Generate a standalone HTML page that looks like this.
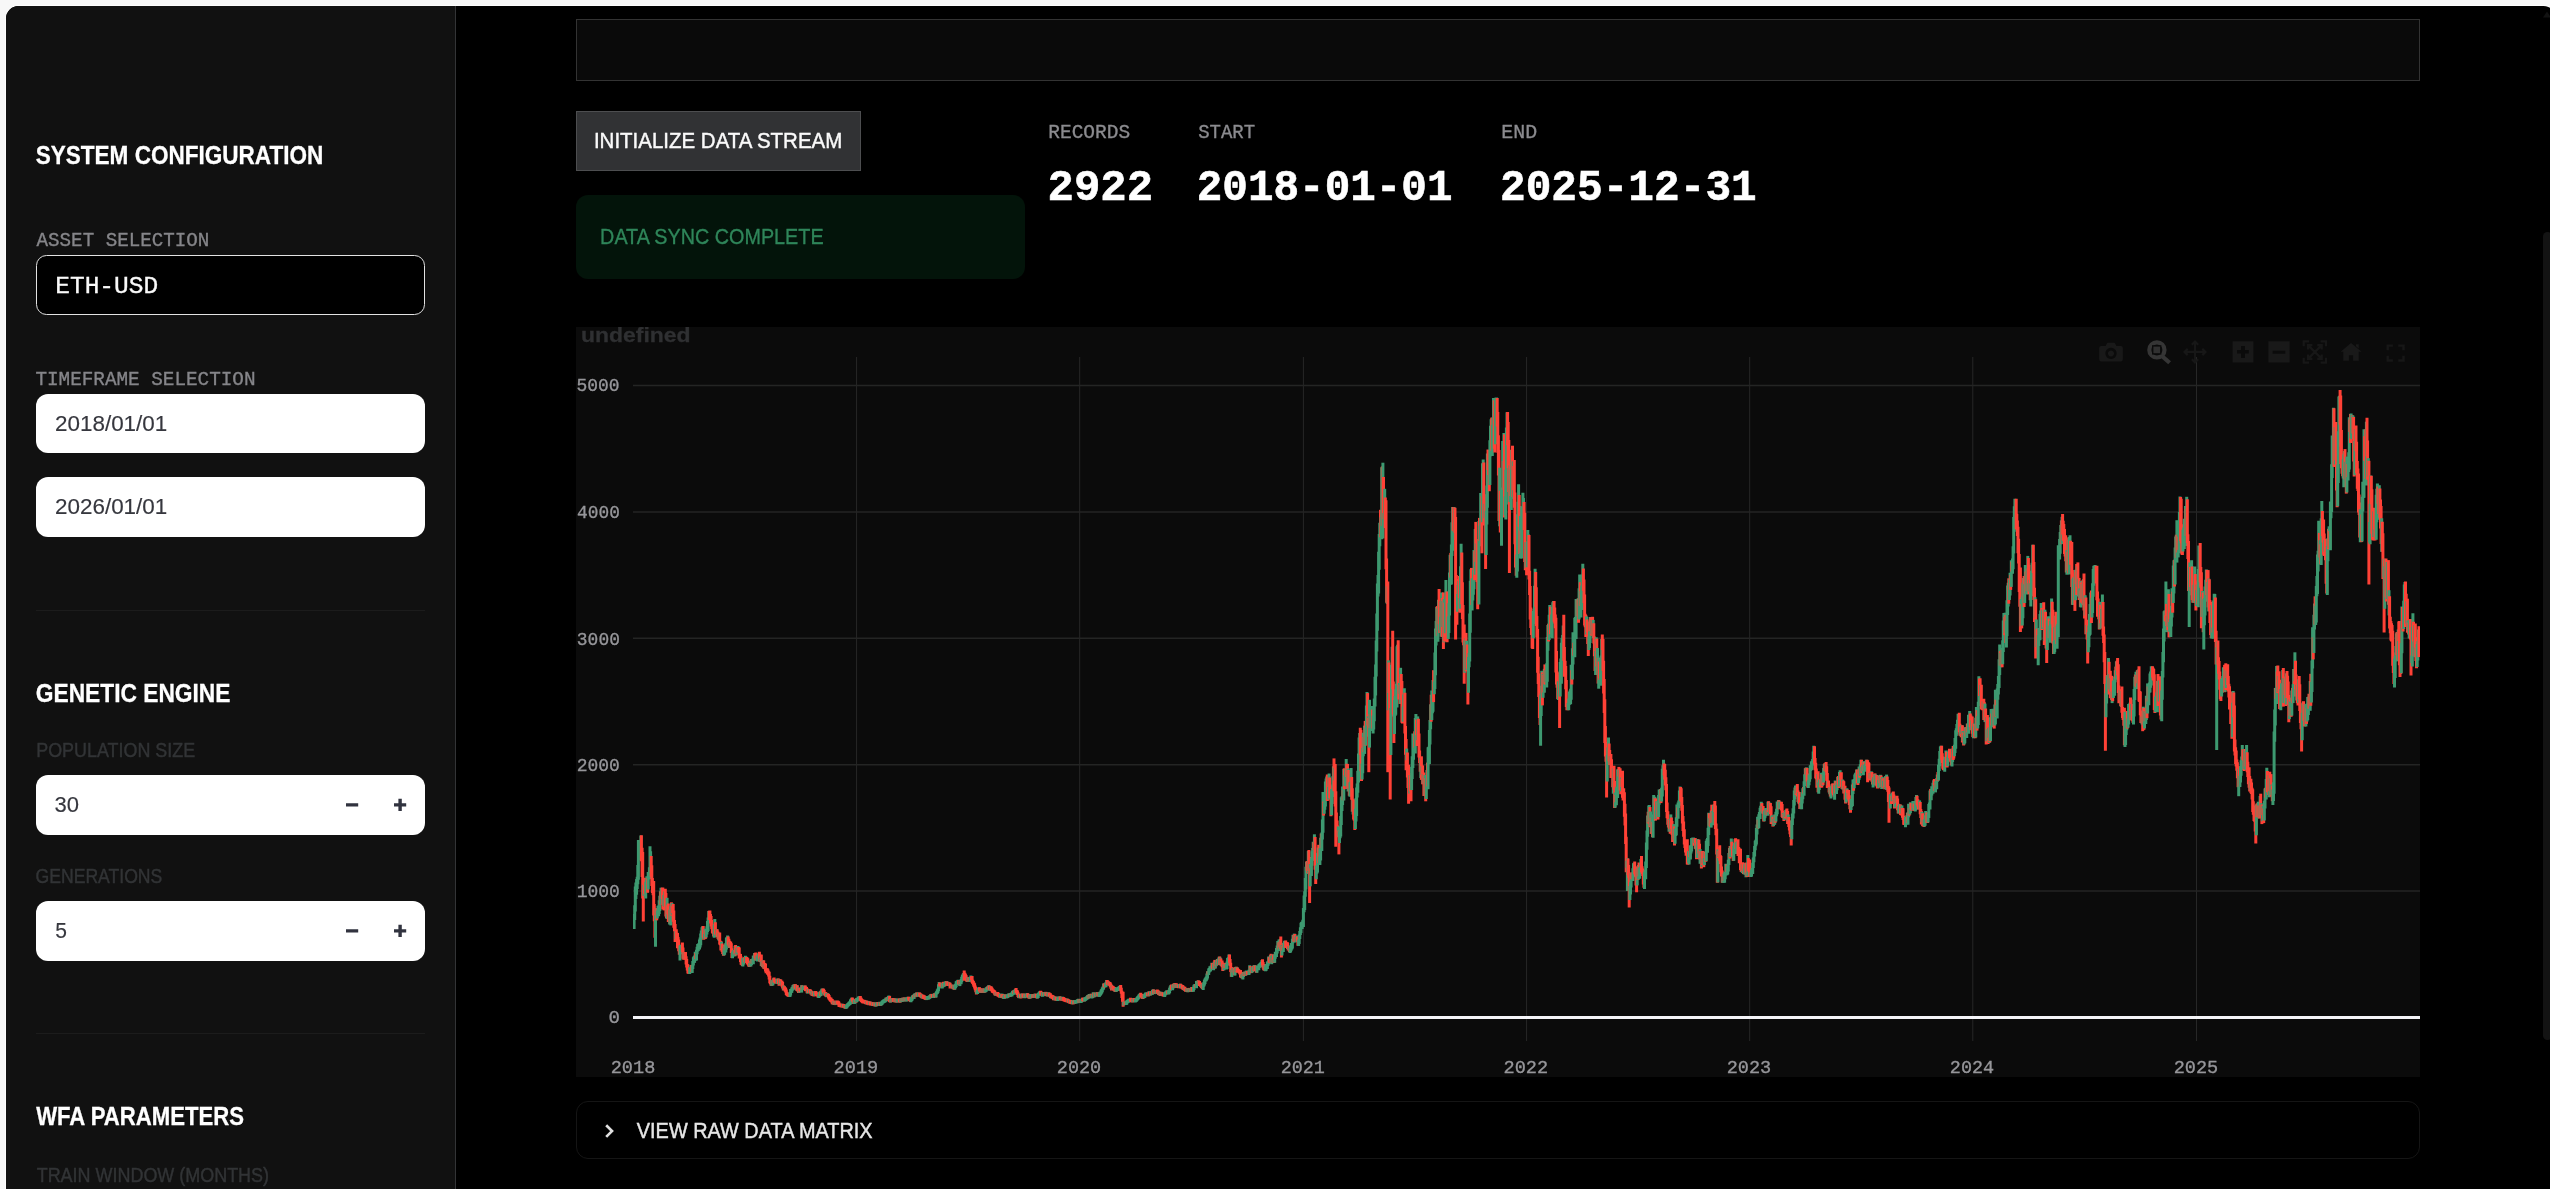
<!DOCTYPE html>
<html><head><meta charset="utf-8"><title>ETH-USD WFA</title>
<style>
*{box-sizing:border-box;margin:0;padding:0}
html,body{width:2550px;height:1189px;overflow:hidden;background:#f7f7f7;font-family:"Liberation Sans",sans-serif}
.win{position:absolute;left:6px;top:6px;width:2550px;height:1200px;background:#000;border-radius:12.5px 12.5px 0 0;overflow:hidden;box-shadow:0 0 0 1px #fdfdfd}
.side{position:absolute;left:0;top:0;width:449px;height:1200px;background:#111111}
.sideb{position:absolute;left:449px;top:0;width:1px;height:1200px;background:#333436}
.abs{position:absolute}
.inp{position:absolute;left:30px;width:389px;height:60px;background:#fff;border-radius:12px}
.hr{position:absolute;left:30px;width:389px;height:1px;background:#1c1c1c}
.g{stroke:#3d9970}.r{stroke:#ff4136}
</style></head><body>
<div class="win">
  <div class="side">
    <div class="abs" style="left:30px;top:249px;width:389px;height:60px;background:#000;border:1px solid #e2e2e2;border-radius:10.5px"></div>
    <div class="inp" style="top:388px;height:59px"></div>
    <div class="inp" style="top:471px"></div>
    <div class="hr" style="top:604px"></div>
    <div class="inp" style="top:769px"></div>
    <div class="inp" style="top:895px"></div>
    <div class="hr" style="top:1027px"></div>
  </div>
  <div class="sideb"></div>
  <div class="abs" style="left:570px;top:13px;width:1844px;height:62px;background:#0a0a0a;border:1px solid #333"></div>
  <div class="abs" style="left:570px;top:105px;width:285px;height:60px;background:#313234;border:1px solid #4d4e50"></div>
  <div class="abs" style="left:570px;top:189px;width:449px;height:84px;background:#03140a;border-radius:12px"></div>
  <div class="abs" style="left:570px;top:1095px;width:1844px;height:58px;border:1px solid #151515;border-radius:12px"></div>
  <div class="abs" style="left:2537px;top:226px;width:9px;height:808px;background:#131313;border-radius:5px"></div>
  <svg class="abs" style="left:2537px;top:5px" width="8" height="8"><path d="M0 6.5L4 0.500L8 6.500z" fill="#121212"/></svg>
</div>
<svg class="abs" style="left:576px;top:327px;will-change:transform" width="1844" height="750" viewBox="576 327 1844 750">
  <rect x="576" y="327" width="1844" height="750" fill="#0b0b0b"/>
  <path d="M856.6 357V1041M1079.7 357V1041M1303.4 357V1041M1526.6 357V1041M1749.7 357V1041M1972.8 357V1041M2196.5 357V1041" stroke="#272727" stroke-width="1" fill="none"/>
  <path d="M633 385.5H2420M633 511.9H2420M633 638.2H2420M633 764.7H2420M633 891.1H2420" stroke="#242524" stroke-width="1.5" fill="none"/>
  <path d="M633 1017.5H2420" stroke="#f4f4f8" stroke-width="3"/>
  <clipPath id="pc"><rect x="633.1" y="357" width="1786.9" height="684"/></clipPath>
  <g fill="none" stroke-width="3" clip-path="url(#pc)"><path class="g" d="M633.5 918.8V926.1M634.1 914.0V929.0M634.7 905.3V920.0M635.3 886.5V911.4M635.9 882.5V898.9M636.6 879.1V894.8M637.2 876.7V888.9M637.8 865.0V884.3M638.4 839.9V879.7M639.0 846.8V858.9M639.6 841.0V859.7M640.2 841.4V854.0M640.8 835.5V858.2"/><path class="r" d="M641.4 835.3V861.3M642.1 847.8V876.9M642.7 852.0V898.6M643.3 878.5V921.4"/><path class="g" d="M643.9 884.8V895.8"/><path class="r" d="M644.5 877.8V893.7M645.1 887.1V895.8"/><path class="g" d="M645.7 881.7V898.6M646.3 879.6V890.9M646.9 876.2V889.0"/><path class="r" d="M647.6 878.2V892.8"/><path class="g" d="M648.2 872.1V889.4M648.8 872.9V879.4M649.4 867.3V878.9M650.0 846.2V878.9M650.6 851.2V864.8"/><path class="r" d="M651.2 855.9V876.7M651.8 865.2V886.0M652.4 878.0V893.0M653.1 883.0V895.3M653.7 881.0V915.6M654.3 904.0V921.2M654.9 910.1V937.8"/><path class="g" d="M655.5 915.2V946.7M656.1 908.4V920.3"/><path class="r" d="M656.7 908.1V920.3"/><path class="g" d="M657.3 910.6V918.6M658.0 905.8V916.0M658.6 905.6V916.2M659.2 900.3V913.9M659.8 895.7V910.9"/><path class="r" d="M660.4 891.2V904.6"/><path class="g" d="M661.0 887.7V904.6M661.6 889.7V899.0"/><path class="r" d="M662.2 887.4V898.9M662.8 887.5V909.5"/><path class="g" d="M663.5 895.0V906.0"/><path class="r" d="M664.1 894.1V910.4"/><path class="g" d="M664.7 891.4V906.9"/><path class="r" d="M665.3 888.7V907.4M665.9 893.0V916.4M666.5 906.6V918.3"/><path class="g" d="M667.1 897.8V919.0"/><path class="r" d="M667.7 905.3V914.5M668.3 903.5V921.9M669.0 909.6V918.6"/><path class="g" d="M669.6 909.7V924.5"/><path class="r" d="M670.2 909.3V923.4"/><path class="g" d="M670.8 905.9V925.4"/><path class="r" d="M671.4 902.3V915.6"/><path class="g" d="M672.0 903.1V914.9"/><path class="r" d="M672.6 905.7V913.1M673.2 904.0V921.8M673.8 910.6V927.8M674.5 920.1V931.2M675.1 924.1V942.1"/><path class="g" d="M675.7 931.1V939.2"/><path class="r" d="M676.3 929.3V939.3M676.9 932.7V940.0M677.5 932.9V948.2M678.1 937.1V948.2M678.7 939.5V951.2M679.3 945.1V954.8"/><path class="g" d="M680.0 945.5V960.6M680.6 945.0V954.3M681.2 945.5V953.0M681.8 944.6V949.1"/><path class="r" d="M682.4 942.5V951.9M683.0 947.6V958.8M683.6 952.5V959.8"/><path class="g" d="M684.2 952.6V959.0"/><path class="r" d="M684.8 952.4V959.5M685.5 952.1V959.7M686.1 956.3V964.5M686.7 959.1V967.5M687.3 964.0V970.5M687.9 964.6V973.5M688.5 969.5V973.8M689.1 969.8V974.1"/><path class="g" d="M689.7 967.3V974.1M690.3 968.1V972.3M691.0 965.1V972.0"/><path class="r" d="M691.6 964.9V972.2"/><path class="g" d="M692.2 965.3V973.0M692.8 960.9V969.0M693.4 957.3V965.5M694.0 956.3V962.9M694.6 955.6V962.7M695.2 951.8V961.0"/><path class="r" d="M695.8 953.1V959.0"/><path class="g" d="M696.5 949.7V960.5M697.1 946.8V954.3M697.7 944.1V951.4M698.3 944.5V951.0M698.9 942.9V948.7M699.5 939.5V949.6M700.1 937.5V947.5M700.7 933.6V945.3M701.3 930.5V939.8M702.0 927.2V938.2M702.6 926.2V934.0"/><path class="r" d="M703.2 925.9V937.4M703.8 932.2V939.7"/><path class="g" d="M704.4 933.9V939.1M705.0 928.7V938.9"/><path class="r" d="M705.6 930.2V938.7"/><path class="g" d="M706.2 930.0V937.4M706.9 926.2V934.5M707.5 920.9V931.9M708.1 917.4V931.0M708.7 911.1V922.3"/><path class="r" d="M709.3 910.8V920.1M709.9 910.5V919.5M710.5 914.0V923.5M711.1 915.9V926.5M711.7 920.1V929.2M712.4 923.7V933.0M713.0 928.5V933.9M713.6 927.6V936.4"/><path class="g" d="M714.2 924.8V937.8M714.8 918.9V930.4"/><path class="r" d="M715.4 922.2V934.2M716.0 930.0V935.3"/><path class="g" d="M716.6 929.2V937.1"/><path class="r" d="M717.2 929.2V936.5M717.9 931.4V938.7M718.5 934.5V939.7"/><path class="g" d="M719.1 932.9V940.9"/><path class="r" d="M719.7 932.4V944.6M720.3 940.8V945.3M720.9 940.9V950.4"/><path class="g" d="M721.5 941.8V949.2"/><path class="r" d="M722.1 943.4V952.0M722.7 945.0V954.0M723.4 950.0V955.8"/><path class="g" d="M724.0 948.2V955.6M724.6 945.2V954.7"/><path class="r" d="M725.2 944.3V950.3"/><path class="g" d="M725.8 942.9V952.6M726.4 937.7V949.4M727.0 936.9V945.1M727.6 935.5V941.0"/><path class="r" d="M728.2 936.5V944.5M728.9 938.8V946.5M729.5 940.8V948.0"/><path class="g" d="M730.1 942.1V948.0"/><path class="r" d="M730.7 941.4V947.6M731.3 943.3V952.9M731.9 948.2V957.9"/><path class="g" d="M732.5 952.1V958.3M733.1 950.4V956.6M733.7 949.9V955.0"/><path class="r" d="M734.4 950.0V954.5"/><path class="g" d="M735.0 945.8V956.4"/><path class="r" d="M735.6 945.1V953.2M736.2 948.7V955.5"/><path class="g" d="M736.8 948.1V954.6"/><path class="r" d="M737.4 947.0V952.4"/><path class="g" d="M738.0 946.0V952.5"/><path class="r" d="M738.6 946.9V952.5M739.2 947.6V958.5M739.9 953.7V958.2M740.5 954.0V962.0M741.1 956.6V964.7M741.7 960.1V965.1M742.3 961.4V966.0"/><path class="g" d="M742.9 958.1V966.6M743.5 958.2V964.5M744.1 957.5V962.5"/><path class="r" d="M744.7 957.0V962.3"/><path class="g" d="M745.4 955.7V962.5M746.0 956.5V961.0"/><path class="r" d="M746.6 957.1V963.0M747.2 957.4V964.4M747.8 958.3V964.3M748.4 961.1V965.7M749.0 961.1V967.0"/><path class="g" d="M749.6 963.0V966.6"/><path class="r" d="M750.3 962.7V966.3"/><path class="g" d="M750.9 959.7V966.6M751.5 959.0V964.9"/><path class="r" d="M752.1 959.3V963.5"/><path class="g" d="M752.7 958.4V963.5M753.3 955.5V964.2M753.9 955.4V959.3M754.5 953.1V960.4"/><path class="r" d="M755.1 953.2V958.1M755.8 952.5V960.4"/><path class="g" d="M756.4 955.6V960.5"/><path class="r" d="M757.0 955.4V960.0"/><path class="g" d="M757.6 956.2V961.6M758.2 953.7V960.9M758.8 953.0V957.8"/><path class="r" d="M759.4 951.7V958.6M760.0 954.5V962.0"/><path class="g" d="M760.6 956.6V962.2"/><path class="r" d="M761.3 954.6V966.0"/><path class="g" d="M761.9 961.3V966.3"/><path class="r" d="M762.5 960.7V967.1"/><path class="g" d="M763.1 960.2V967.4"/><path class="r" d="M763.7 960.4V968.7"/><path class="g" d="M764.3 963.7V968.7"/><path class="r" d="M764.9 963.0V969.2M765.5 963.7V971.5M766.1 968.0V973.2M766.8 969.0V972.6M767.4 968.3V974.3M768.0 969.5V975.1M768.6 971.3V976.4M769.2 971.7V979.5M769.8 975.7V983.3M770.4 979.7V984.3M771.0 980.8V985.7"/><path class="g" d="M771.6 980.4V985.9"/><path class="r" d="M772.3 981.0V985.4"/><path class="g" d="M772.9 980.3V985.4M773.5 978.2V983.6"/><path class="r" d="M774.1 977.5V982.6M774.7 979.0V982.6M775.3 978.9V983.3M775.9 980.0V983.7M776.5 980.1V983.7"/><path class="g" d="M777.1 978.6V983.8M777.8 978.4V982.7"/><path class="r" d="M778.4 978.6V983.4M779.0 980.3V985.7"/><path class="g" d="M779.6 979.1V984.7"/><path class="r" d="M780.2 979.3V983.0M780.8 979.5V985.3"/><path class="g" d="M781.4 981.2V985.4"/><path class="r" d="M782.0 980.7V986.7M782.6 982.1V988.4M783.3 985.3V990.5"/><path class="g" d="M783.9 985.7V990.2"/><path class="r" d="M784.5 986.3V990.1M785.1 986.9V991.6M785.7 988.0V992.4M786.3 989.4V995.1M786.9 991.7V995.7M787.5 992.7V996.3M788.1 993.0V996.6M788.8 993.5V997.1M789.4 993.0V996.8"/><path class="g" d="M790.0 992.1V996.9M790.6 989.0V995.4M791.2 989.2V992.9M791.8 987.4V992.8M792.4 986.7V990.7M793.0 985.1V989.9M793.7 984.5V989.2"/><path class="r" d="M794.3 984.4V988.6"/><path class="g" d="M794.9 984.3V989.1"/><path class="r" d="M795.5 984.3V988.6M796.1 985.5V990.2"/><path class="g" d="M796.7 985.3V990.8"/><path class="r" d="M797.3 985.3V991.0M797.9 988.0V991.7M798.5 988.8V992.9"/><path class="g" d="M799.2 987.4V992.7"/><path class="r" d="M799.8 987.7V991.6M800.4 987.7V991.6M801.0 988.4V992.0"/><path class="g" d="M801.6 985.1V992.6"/><path class="r" d="M802.2 985.6V989.9"/><path class="g" d="M802.8 986.5V990.1M803.4 986.3V989.9M804.0 985.7V990.1M804.7 985.5V989.1"/><path class="r" d="M805.3 985.5V991.0M805.9 986.7V991.3M806.5 987.0V991.2M807.1 988.2V993.2"/><path class="g" d="M807.7 989.1V993.6"/><path class="r" d="M808.3 989.2V992.8M808.9 989.4V993.0"/><path class="g" d="M809.5 989.4V993.1"/><path class="r" d="M810.2 989.3V993.0M810.8 990.0V994.5"/><path class="g" d="M811.4 990.9V994.5"/><path class="r" d="M812.0 991.4V995.9"/><path class="g" d="M812.6 991.8V995.4"/><path class="r" d="M813.2 991.4V995.9M813.8 992.9V996.6"/><path class="g" d="M814.4 992.4V996.0M815.0 991.1V996.1"/><path class="r" d="M815.7 990.9V994.8M816.3 991.8V996.1M816.9 993.0V996.6M817.5 992.6V996.5M818.1 993.2V997.7"/><path class="g" d="M818.7 994.3V998.0M819.3 992.3V997.2M819.9 991.6V996.4"/><path class="r" d="M820.5 991.3V995.9"/><path class="g" d="M821.2 990.2V995.7M821.8 988.8V993.5M822.4 988.6V992.2"/><path class="r" d="M823.0 988.6V992.2M823.6 988.8V993.6M824.2 989.9V995.3"/><path class="g" d="M824.8 991.9V995.5"/><path class="r" d="M825.4 992.0V995.8M826.0 992.6V997.1"/><path class="g" d="M826.7 993.6V997.2M827.3 992.9V996.7"/><path class="r" d="M827.9 993.4V997.0M828.5 994.0V998.4M829.1 995.1V999.7M829.7 996.8V1000.4M830.3 997.6V1001.2M830.9 997.6V1001.9M831.5 998.8V1002.4M832.2 999.0V1004.3M832.8 1000.8V1004.4"/><path class="g" d="M833.4 1000.9V1004.6"/><path class="r" d="M834.0 1000.5V1004.4M834.6 1001.0V1005.1"/><path class="g" d="M835.2 1001.3V1005.1"/><path class="r" d="M835.8 1001.1V1004.7"/><path class="g" d="M836.4 1000.8V1004.4"/><path class="r" d="M837.0 1000.5V1004.1M837.7 1000.5V1004.1M838.3 1001.1V1004.7M838.9 1001.8V1006.7M839.5 1003.3V1006.9M840.1 1003.5V1007.1M840.7 1003.6V1007.2M841.3 1003.8V1007.4M841.9 1003.7V1007.3"/><path class="g" d="M842.6 1003.8V1007.4"/><path class="r" d="M843.2 1004.0V1007.6M843.8 1004.1V1007.7M844.4 1004.5V1008.3"/><path class="g" d="M845.0 1004.9V1008.5"/><path class="r" d="M845.6 1005.1V1008.7"/><path class="g" d="M846.2 1005.1V1008.7M846.8 1004.4V1008.3M847.4 1003.6V1007.2M848.1 1002.9V1006.5M848.7 1002.3V1005.9M849.3 1001.6V1005.3M849.9 1001.3V1004.9M850.5 999.6V1004.3M851.1 998.7V1002.4M851.7 997.8V1002.0"/><path class="r" d="M852.3 997.6V1001.2M852.9 998.5V1002.3M853.6 999.4V1004.1"/><path class="g" d="M854.2 1000.1V1004.0M854.8 999.6V1003.8M855.4 999.2V1002.8"/><path class="r" d="M856.0 999.0V1002.6"/><path class="g" d="M856.6 998.1V1002.3M857.2 997.7V1001.3M857.8 997.8V1001.4M858.4 996.6V1000.7M859.1 996.4V1000.0M859.7 996.1V999.7"/><path class="r" d="M860.3 996.1V1000.7M860.9 997.6V1001.3M861.5 998.4V1002.0M862.1 999.1V1002.7M862.7 999.7V1003.3M863.3 999.8V1003.4M863.9 999.8V1003.4M864.6 999.9V1003.5M865.2 1000.4V1004.0M865.8 1000.6V1004.2"/><path class="g" d="M866.4 1000.7V1004.3"/><path class="r" d="M867.0 1000.7V1004.3M867.6 1001.1V1004.7M868.2 1001.2V1004.8M868.8 1001.7V1005.3"/><path class="g" d="M869.4 1001.4V1005.0"/><path class="r" d="M870.1 1001.5V1005.1M870.7 1001.8V1005.4M871.3 1002.0V1005.6M871.9 1002.2V1005.8"/><path class="g" d="M872.5 1002.3V1005.9"/><path class="r" d="M873.1 1002.2V1005.8M873.7 1002.3V1005.9M874.3 1002.6V1006.2"/><path class="g" d="M874.9 1002.6V1006.2"/><path class="r" d="M875.6 1002.8V1006.4"/><path class="g" d="M876.2 1002.8V1006.4M876.8 1002.5V1006.1M877.4 1002.1V1005.7"/><path class="r" d="M878.0 1002.1V1005.8M878.6 1002.4V1006.0"/><path class="g" d="M879.2 1002.4V1006.0M879.8 1001.8V1005.4"/><path class="r" d="M880.4 1002.1V1005.7"/><path class="g" d="M881.1 1002.1V1005.7M881.7 1001.5V1005.1M882.3 1000.8V1004.4M882.9 1000.0V1003.6M883.5 999.6V1003.2M884.1 999.4V1003.0M884.7 999.0V1002.6M885.3 998.4V1002.3M886.0 997.4V1001.7M886.6 997.4V1001.0"/><path class="r" d="M887.2 997.1V1000.7"/><path class="g" d="M887.8 996.9V1000.5M888.4 996.1V999.8M889.0 995.6V999.2"/><path class="r" d="M889.6 995.9V1002.0M890.2 999.0V1002.6"/><path class="g" d="M890.8 999.0V1002.6M891.5 998.5V1002.1"/><path class="r" d="M892.1 998.2V1001.8"/><path class="g" d="M892.7 998.1V1001.7"/><path class="r" d="M893.3 998.1V1001.7M893.9 998.4V1002.0M894.5 998.6V1002.2"/><path class="g" d="M895.1 998.6V1002.2"/><path class="r" d="M895.7 998.7V1002.3"/><path class="g" d="M896.3 998.6V1002.2"/><path class="r" d="M897.0 998.9V1002.5"/><path class="g" d="M897.6 999.0V1002.6M898.2 998.7V1002.3M898.8 998.4V1002.0"/><path class="r" d="M899.4 998.5V1002.1M900.0 999.1V1002.7"/><path class="g" d="M900.6 998.4V1002.3"/><path class="r" d="M901.2 998.2V1001.8"/><path class="g" d="M901.8 998.3V1001.9M902.5 997.7V1001.4"/><path class="r" d="M903.1 997.7V1001.3"/><path class="g" d="M903.7 997.9V1001.5"/><path class="r" d="M904.3 997.5V1001.1"/><path class="g" d="M904.9 997.7V1001.3M905.5 997.5V1001.1"/><path class="r" d="M906.1 997.7V1001.3"/><path class="g" d="M906.7 997.9V1001.5M907.3 997.3V1001.1M908.0 996.8V1000.4"/><path class="r" d="M908.6 996.7V1000.3M909.2 997.0V1000.6M909.8 997.6V1001.2M910.4 998.2V1001.9"/><path class="g" d="M911.0 998.2V1002.2M911.6 997.4V1001.0M912.2 996.0V1000.4M912.8 995.0V998.9"/><path class="r" d="M913.5 995.0V998.7"/><path class="g" d="M914.1 994.1V999.0M914.7 993.5V997.1"/><path class="r" d="M915.3 993.6V997.2"/><path class="g" d="M915.9 993.1V996.7M916.5 992.4V996.4"/><path class="r" d="M917.1 992.5V996.1M917.7 993.0V996.6"/><path class="g" d="M918.3 992.9V996.5M919.0 992.5V996.7"/><path class="r" d="M919.6 992.5V996.3M920.2 993.3V996.9M920.8 993.5V997.6"/><path class="g" d="M921.4 994.3V997.9"/><path class="r" d="M922.0 994.5V998.5"/><path class="g" d="M922.6 994.9V998.5"/><path class="r" d="M923.2 994.7V998.3M923.8 995.3V998.9M924.5 995.6V999.2M925.1 996.0V999.6M925.7 996.4V1000.0"/><path class="g" d="M926.3 996.4V1000.1"/><path class="r" d="M926.9 996.2V999.8"/><path class="g" d="M927.5 996.1V999.7M928.1 996.2V999.8M928.7 995.9V999.5M929.3 995.4V999.1M930.0 995.0V998.6M930.6 994.2V997.9"/><path class="r" d="M931.2 993.9V997.8"/><path class="g" d="M931.8 994.2V997.9"/><path class="r" d="M932.4 994.0V997.6M933.0 994.2V997.8"/><path class="g" d="M933.6 994.3V997.9M934.2 993.2V997.1"/><path class="r" d="M934.9 993.3V997.0M935.5 993.9V997.5"/><path class="g" d="M936.1 992.0V997.5M936.7 990.9V994.6M937.3 989.6V994.0M937.9 988.4V993.1M938.5 984.2V991.3M939.1 982.0V988.4"/><path class="r" d="M939.7 982.5V986.5M940.4 982.6V986.2M941.0 982.9V986.5M941.6 983.3V987.7"/><path class="g" d="M942.2 983.6V988.5M942.8 982.8V987.5"/><path class="r" d="M943.4 981.8V986.7"/><path class="g" d="M944.0 983.1V986.7M944.6 982.7V986.4M945.2 981.6V986.1M945.9 981.2V984.8"/><path class="r" d="M946.5 981.1V985.7"/><path class="g" d="M947.1 981.5V985.3"/><path class="r" d="M947.7 981.7V985.6M948.3 982.0V986.1M948.9 982.3V985.9"/><path class="g" d="M949.5 982.6V986.2"/><path class="r" d="M950.1 982.7V988.6M950.7 984.5V988.1M951.4 984.8V988.4"/><path class="g" d="M952.0 984.7V988.3"/><path class="r" d="M952.6 984.7V988.3M953.2 985.0V989.2"/><path class="g" d="M953.8 985.1V989.4"/><path class="r" d="M954.4 985.4V989.7"/><path class="g" d="M955.0 984.6V989.5M955.6 983.8V988.1M956.2 981.2V987.0M956.9 980.8V984.9M957.5 980.3V983.9M958.1 979.8V983.4"/><path class="r" d="M958.7 980.1V983.9M959.3 980.4V985.4"/><path class="g" d="M959.9 980.5V986.1"/><path class="r" d="M960.5 980.4V984.0"/><path class="g" d="M961.1 979.0V984.2M961.7 976.8V982.3M962.4 975.1V980.1M963.0 973.8V979.3M963.6 973.0V977.0"/><path class="r" d="M964.2 970.5V980.8M964.8 972.7V977.8M965.4 973.7V979.0M966.0 975.1V979.9M966.6 976.8V981.6M967.2 978.3V981.9"/><path class="g" d="M967.9 977.6V981.6"/><path class="r" d="M968.5 977.8V981.4"/><path class="g" d="M969.1 977.0V981.9"/><path class="r" d="M969.7 977.3V981.3"/><path class="g" d="M970.3 976.7V981.4M970.9 975.5V980.1"/><path class="r" d="M971.5 976.2V980.0M972.1 975.9V983.0M972.7 979.8V984.0M973.4 980.9V985.6M974.0 982.6V987.0M974.6 983.3V988.6M975.2 985.4V990.2M975.8 987.0V992.2M976.4 988.9V994.4"/><path class="g" d="M977.0 990.4V994.0M977.6 990.0V994.1M978.3 988.0V992.7M978.9 987.3V991.9"/><path class="r" d="M979.5 987.3V991.3M980.1 988.4V992.1M980.7 989.0V992.9"/><path class="g" d="M981.3 988.8V992.7"/><path class="r" d="M981.9 988.8V992.4M982.5 988.2V992.2"/><path class="g" d="M983.1 988.9V992.5"/><path class="r" d="M983.8 989.2V992.8"/><path class="g" d="M984.4 988.5V992.7"/><path class="r" d="M985.0 988.7V992.4"/><path class="g" d="M985.6 988.7V992.3M986.2 987.4V991.7M986.8 987.1V990.7M987.4 986.4V990.6"/><path class="r" d="M988.0 986.3V989.9"/><path class="g" d="M988.6 985.2V990.4"/><path class="r" d="M989.3 985.4V989.5M989.9 986.6V990.4"/><path class="g" d="M990.5 986.4V990.8"/><path class="r" d="M991.1 986.3V990.2M991.7 987.3V991.2M992.3 988.3V992.6M992.9 989.5V993.1M993.5 989.4V993.0M994.1 989.9V993.7M994.8 990.7V995.3"/><path class="g" d="M995.4 992.1V995.7"/><path class="r" d="M996.0 992.0V995.6M996.6 992.1V995.7"/><path class="g" d="M997.2 992.2V995.8"/><path class="r" d="M997.8 992.0V996.6M998.4 993.1V996.7M999.0 993.6V997.2M999.6 994.2V997.8"/><path class="g" d="M1000.3 993.9V997.5M1000.9 993.8V997.4"/><path class="r" d="M1001.5 994.1V997.8"/><path class="g" d="M1002.1 993.6V998.1"/><path class="r" d="M1002.7 994.0V997.6M1003.3 994.5V998.7"/><path class="g" d="M1003.9 995.4V999.0M1004.5 994.7V998.8M1005.1 994.2V997.8"/><path class="r" d="M1005.8 994.4V998.0M1006.4 994.4V998.2"/><path class="g" d="M1007.0 994.6V998.2M1007.6 994.4V998.1M1008.2 993.9V997.5M1008.8 993.3V996.9M1009.4 993.2V996.8"/><path class="r" d="M1010.0 993.4V997.0"/><path class="g" d="M1010.6 993.1V996.7M1011.3 992.8V996.4M1011.9 992.2V996.6M1012.5 991.1V995.3M1013.1 990.5V994.3"/><path class="r" d="M1013.7 990.4V994.0"/><path class="g" d="M1014.3 990.2V994.7M1014.9 989.5V993.6M1015.5 988.7V992.5"/><path class="r" d="M1016.1 988.1V993.1M1016.8 990.0V993.6M1017.4 990.5V995.0M1018.0 992.2V996.9M1018.6 994.0V997.9"/><path class="g" d="M1019.2 994.7V998.3M1019.8 993.8V997.6"/><path class="r" d="M1020.4 993.7V997.3M1021.0 994.2V998.5"/><path class="g" d="M1021.7 994.1V997.8M1022.3 993.4V997.4"/><path class="r" d="M1022.9 993.4V997.0M1023.5 993.8V997.4M1024.1 994.1V998.0"/><path class="g" d="M1024.7 994.4V998.3M1025.3 993.6V997.2"/><path class="r" d="M1025.9 993.8V997.4"/><path class="g" d="M1026.5 993.9V997.5M1027.2 993.0V997.8"/><path class="r" d="M1027.8 993.3V996.9M1028.4 993.9V997.6M1029.0 994.2V998.7"/><path class="g" d="M1029.6 994.8V998.4"/><path class="r" d="M1030.2 994.8V998.4"/><path class="g" d="M1030.8 994.6V998.3M1031.4 994.1V997.7M1032.0 994.1V997.7"/><path class="r" d="M1032.7 994.3V997.9"/><path class="g" d="M1033.3 994.2V997.8"/><path class="r" d="M1033.9 994.1V997.7"/><path class="g" d="M1034.5 993.9V997.5"/><path class="r" d="M1035.1 993.6V997.2"/><path class="g" d="M1035.7 993.8V997.4"/><path class="r" d="M1036.3 993.9V997.8M1036.9 994.5V998.5"/><path class="g" d="M1037.5 994.8V998.4M1038.2 992.9V997.9M1038.8 992.5V996.1M1039.4 991.7V995.6M1040.0 991.0V994.6"/><path class="r" d="M1040.6 990.8V994.5M1041.2 991.5V995.3M1041.8 992.0V996.2"/><path class="g" d="M1042.4 992.2V996.8M1043.0 991.9V995.5"/><path class="r" d="M1043.7 992.1V995.8"/><path class="g" d="M1044.3 992.7V996.3M1044.9 991.9V996.0"/><path class="r" d="M1045.5 991.9V995.5"/><path class="g" d="M1046.1 991.9V995.5"/><path class="r" d="M1046.7 992.3V995.9M1047.3 992.9V996.5"/><path class="g" d="M1047.9 992.9V996.6M1048.5 992.3V995.9"/><path class="r" d="M1049.2 992.6V996.2M1049.8 993.2V996.8M1050.4 993.3V997.9"/><path class="g" d="M1051.0 994.9V998.5"/><path class="r" d="M1051.6 994.7V998.3M1052.2 994.9V998.5M1052.8 995.3V998.9M1053.4 995.8V1000.2M1054.0 996.6V1000.2"/><path class="g" d="M1054.7 996.6V1000.2"/><path class="r" d="M1055.3 996.8V1000.4"/><path class="g" d="M1055.9 996.7V1000.3"/><path class="r" d="M1056.5 996.7V1000.3M1057.1 997.2V1000.9"/><path class="g" d="M1057.7 997.4V1001.0M1058.3 996.7V1000.4M1058.9 996.6V1000.2M1059.5 996.2V999.8"/><path class="r" d="M1060.2 996.5V1000.1M1060.8 997.0V1000.6"/><path class="g" d="M1061.4 996.9V1000.5"/><path class="r" d="M1062.0 997.0V1000.6"/><path class="g" d="M1062.6 996.7V1000.3"/><path class="r" d="M1063.2 997.0V1000.6M1063.8 997.2V1001.2M1064.4 997.9V1001.5M1065.0 998.1V1001.7M1065.7 998.4V1002.0M1066.3 998.6V1002.2M1066.9 998.6V1002.2"/><path class="g" d="M1067.5 998.7V1002.3"/><path class="r" d="M1068.1 998.9V1002.5M1068.7 999.4V1003.1M1069.3 999.9V1003.5"/><path class="g" d="M1069.9 999.8V1003.4"/><path class="r" d="M1070.6 1000.1V1003.7M1071.2 1000.4V1004.0M1071.8 1000.6V1004.2"/><path class="g" d="M1072.4 1000.7V1004.3M1073.0 1000.3V1003.9"/><path class="r" d="M1073.6 1000.7V1004.3"/><path class="g" d="M1074.2 1000.3V1003.9"/><path class="r" d="M1074.8 1000.3V1003.9"/><path class="g" d="M1075.4 1000.1V1003.7M1076.1 999.9V1003.5M1076.7 999.9V1003.5M1077.3 999.6V1003.2M1077.9 999.1V1002.7M1078.5 998.8V1002.4"/><path class="r" d="M1079.1 999.1V1002.7"/><path class="g" d="M1079.7 999.1V1002.7"/><path class="r" d="M1080.3 999.0V1002.8"/><path class="g" d="M1080.9 999.5V1003.1M1081.6 998.9V1002.6M1082.2 998.0V1001.7"/><path class="r" d="M1082.8 997.6V1001.2M1083.4 997.8V1001.4M1084.0 998.0V1001.6"/><path class="g" d="M1084.6 997.7V1001.4M1085.2 997.2V1000.9M1085.8 996.9V1000.5M1086.4 996.5V1000.1M1087.1 996.0V999.6M1087.7 995.0V999.2"/><path class="r" d="M1088.3 995.0V998.6"/><path class="g" d="M1088.9 994.3V998.4M1089.5 994.0V997.6"/><path class="r" d="M1090.1 994.3V998.0"/><path class="g" d="M1090.7 993.8V997.7"/><path class="r" d="M1091.3 993.8V998.0"/><path class="g" d="M1091.9 994.8V998.4M1092.6 994.2V997.9M1093.2 992.2V997.2"/><path class="r" d="M1093.8 992.8V997.3"/><path class="g" d="M1094.4 993.2V997.2M1095.0 992.7V996.6"/><path class="r" d="M1095.6 992.7V996.4"/><path class="g" d="M1096.2 992.9V996.6M1096.8 992.3V995.9"/><path class="r" d="M1097.4 992.2V995.9"/><path class="g" d="M1098.1 992.5V996.1"/><path class="r" d="M1098.7 992.7V996.7"/><path class="g" d="M1099.3 993.0V997.0M1099.9 991.7V995.7M1100.5 991.6V995.5M1101.1 989.8V994.4M1101.7 988.9V993.4M1102.3 987.6V992.2M1102.9 986.4V990.3M1103.6 983.5V989.5"/><path class="r" d="M1104.2 983.4V987.3M1104.8 983.3V987.5"/><path class="g" d="M1105.4 983.6V987.2M1106.0 981.9V987.2M1106.6 980.0V985.2"/><path class="r" d="M1107.2 979.9V984.4M1107.8 980.7V984.9M1108.4 981.3V985.5"/><path class="g" d="M1109.1 981.8V985.4"/><path class="r" d="M1109.7 982.0V985.8M1110.3 982.4V987.2M1110.9 983.8V988.8M1111.5 985.1V990.4"/><path class="g" d="M1112.1 985.7V989.8"/><path class="r" d="M1112.7 985.7V989.3M1113.3 986.2V990.3M1114.0 987.1V990.7M1114.6 987.1V991.4"/><path class="g" d="M1115.2 988.3V991.9"/><path class="r" d="M1115.8 988.3V991.9"/><path class="g" d="M1116.4 987.8V991.8M1117.0 987.3V990.9M1117.6 987.3V991.1M1118.2 987.0V990.6M1118.8 986.5V990.4M1119.5 985.9V989.5M1120.1 985.6V989.2"/><path class="r" d="M1120.7 985.1V991.2M1121.3 987.7V993.7M1121.9 990.7V997.9M1122.5 995.1V1001.8M1123.1 991.7V1006.7"/><path class="g" d="M1123.7 1001.9V1005.5M1124.3 1001.4V1005.0"/><path class="r" d="M1125.0 1001.4V1005.0M1125.6 1001.4V1005.0"/><path class="g" d="M1126.2 1001.3V1004.9M1126.8 1000.3V1004.5M1127.4 999.7V1003.3M1128.0 999.4V1003.0M1128.6 998.7V1002.5M1129.2 998.7V1002.3M1129.8 998.4V1002.1"/><path class="r" d="M1130.5 997.7V1001.6M1131.1 998.5V1002.1M1131.7 998.6V1002.2M1132.3 998.8V1002.4"/><path class="g" d="M1132.9 998.7V1002.3M1133.5 998.0V1001.6"/><path class="r" d="M1134.1 997.9V1001.5M1134.7 998.1V1002.1"/><path class="g" d="M1135.3 998.9V1002.5M1136.0 998.5V1002.1M1136.6 997.8V1001.6M1137.2 997.1V1000.7M1137.8 996.0V1000.1M1138.4 995.6V999.2M1139.0 994.6V998.7M1139.6 994.0V997.6M1140.2 993.1V997.2"/><path class="r" d="M1140.8 992.7V997.3M1141.5 994.0V997.6M1142.1 994.3V998.5M1142.7 995.3V998.9"/><path class="g" d="M1143.3 994.7V998.6"/><path class="r" d="M1143.9 994.6V998.2"/><path class="g" d="M1144.5 994.3V997.9M1145.1 993.2V997.5M1145.7 992.5V996.2M1146.3 992.3V995.9M1147.0 992.3V995.9"/><path class="r" d="M1147.6 992.5V996.1M1148.2 992.8V996.4"/><path class="g" d="M1148.8 991.3V996.1"/><path class="r" d="M1149.4 991.5V995.3M1150.0 991.8V995.5"/><path class="g" d="M1150.6 991.8V995.5M1151.2 991.3V994.9"/><path class="r" d="M1151.8 991.1V994.7"/><path class="g" d="M1152.5 989.9V994.7M1153.1 989.3V993.6"/><path class="r" d="M1153.7 989.5V993.7M1154.3 990.5V994.1"/><path class="g" d="M1154.9 990.5V994.1"/><path class="r" d="M1155.5 990.4V994.0"/><path class="g" d="M1156.1 990.4V994.0M1156.7 990.0V993.6"/><path class="r" d="M1157.3 989.6V993.5M1158.0 990.2V993.8M1158.6 990.7V995.1"/><path class="g" d="M1159.2 991.6V995.2"/><path class="r" d="M1159.8 991.8V995.4M1160.4 992.5V996.1"/><path class="g" d="M1161.0 991.7V995.8"/><path class="r" d="M1161.6 992.0V995.8"/><path class="g" d="M1162.2 992.5V996.1"/><path class="r" d="M1162.9 992.6V996.2M1163.5 992.8V996.4M1164.1 993.2V996.8"/><path class="g" d="M1164.7 992.4V997.1M1165.3 992.0V995.6M1165.9 990.9V995.1M1166.5 990.5V994.1M1167.1 990.2V993.8"/><path class="r" d="M1167.7 990.6V994.2"/><path class="g" d="M1168.4 990.8V994.4M1169.0 989.7V994.2M1169.6 987.8V992.9M1170.2 986.2V991.0M1170.8 985.1V988.9"/><path class="r" d="M1171.4 984.6V989.8M1172.0 986.2V989.9"/><path class="g" d="M1172.6 985.0V990.2M1173.2 984.1V988.5"/><path class="r" d="M1173.9 983.5V987.8"/><path class="g" d="M1174.5 983.3V987.6"/><path class="r" d="M1175.1 983.2V987.3"/><path class="g" d="M1175.7 983.9V987.5"/><path class="r" d="M1176.3 983.2V987.6"/><path class="g" d="M1176.9 984.2V987.8M1177.5 984.3V987.9"/><path class="r" d="M1178.1 984.3V987.9M1178.7 984.6V988.2"/><path class="g" d="M1179.4 984.0V988.1M1180.0 983.8V987.6"/><path class="r" d="M1180.6 983.8V988.3M1181.2 984.5V988.4"/><path class="g" d="M1181.8 984.9V988.5"/><path class="r" d="M1182.4 984.9V988.7M1183.0 985.6V990.1M1183.6 986.5V990.1"/><path class="g" d="M1184.2 986.8V990.6"/><path class="r" d="M1184.9 986.7V991.0M1185.5 988.1V991.8M1186.1 988.0V991.6"/><path class="g" d="M1186.7 988.2V992.0"/><path class="r" d="M1187.3 988.0V992.1"/><path class="g" d="M1187.9 988.3V992.2M1188.5 988.0V991.6"/><path class="r" d="M1189.1 987.9V991.7"/><path class="g" d="M1189.7 988.4V992.1M1190.4 988.0V991.6"/><path class="r" d="M1191.0 988.4V992.0"/><path class="g" d="M1191.6 987.0V992.0"/><path class="r" d="M1192.2 987.0V991.4M1192.8 987.7V991.5"/><path class="g" d="M1193.4 986.7V991.7M1194.0 984.8V990.1M1194.6 984.2V987.8M1195.2 984.1V987.7"/><path class="r" d="M1195.9 984.2V987.8"/><path class="g" d="M1196.5 981.1V988.3M1197.1 980.7V985.7M1197.7 981.2V985.4"/><path class="r" d="M1198.3 980.2V984.6"/><path class="g" d="M1198.9 980.8V985.1"/><path class="r" d="M1199.5 981.1V985.9M1200.1 982.5V986.1M1200.7 982.8V987.0M1201.4 983.9V988.0"/><path class="g" d="M1202.0 984.3V988.5"/><path class="r" d="M1202.6 983.7V989.1"/><path class="g" d="M1203.2 983.5V990.0M1203.8 982.0V986.7M1204.4 979.7V985.6M1205.0 978.4V984.0M1205.6 977.4V981.5M1206.3 976.6V981.3M1206.9 973.4V980.1M1207.5 971.3V978.5"/><path class="r" d="M1208.1 971.2V974.8"/><path class="g" d="M1208.7 968.5V975.0M1209.3 968.0V972.6M1209.9 966.3V971.5M1210.5 966.6V971.5M1211.1 965.6V970.0M1211.8 962.8V969.4"/><path class="r" d="M1212.4 963.1V968.6M1213.0 964.8V969.6"/><path class="g" d="M1213.6 963.9V970.2M1214.2 961.4V967.0"/><path class="r" d="M1214.8 959.9V968.6"/><path class="g" d="M1215.4 962.2V968.4"/><path class="r" d="M1216.0 961.6V966.3"/><path class="g" d="M1216.6 960.1V965.8M1217.3 958.9V964.4"/><path class="r" d="M1217.9 958.9V964.6"/><path class="g" d="M1218.5 958.4V964.7M1219.1 956.8V962.4"/><path class="r" d="M1219.7 956.5V965.1"/><path class="g" d="M1220.3 957.6V965.2"/><path class="r" d="M1220.9 958.5V965.3"/><path class="g" d="M1221.5 961.6V966.1"/><path class="r" d="M1222.1 960.6V967.3M1222.8 962.6V970.9M1223.4 965.3V970.0"/><path class="g" d="M1224.0 964.2V970.3"/><path class="r" d="M1224.6 963.3V968.1"/><path class="g" d="M1225.2 963.8V968.4"/><path class="r" d="M1225.8 962.9V968.1"/><path class="g" d="M1226.4 964.0V969.4M1227.0 961.6V969.1M1227.6 957.9V965.2M1228.3 957.2V962.4M1228.9 954.6V964.3"/><path class="r" d="M1229.5 954.5V962.7M1230.1 959.0V966.0M1230.7 962.7V972.1M1231.3 967.0V976.7"/><path class="g" d="M1231.9 969.8V977.0M1232.5 968.1V973.7"/><path class="r" d="M1233.1 967.4V972.5"/><path class="g" d="M1233.8 967.9V973.4"/><path class="r" d="M1234.4 968.1V975.3"/><path class="g" d="M1235.0 969.4V975.4M1235.6 967.1V972.5"/><path class="r" d="M1236.2 966.7V972.2"/><path class="g" d="M1236.8 966.9V971.4"/><path class="r" d="M1237.4 967.5V972.6M1238.0 968.8V972.7M1238.6 969.2V972.8M1239.3 969.8V973.6M1239.9 970.8V974.6M1240.5 970.1V977.2M1241.1 972.6V978.0"/><path class="g" d="M1241.7 974.5V978.1"/><path class="r" d="M1242.3 974.1V978.6"/><path class="g" d="M1242.9 973.5V979.4M1243.5 972.0V977.1"/><path class="r" d="M1244.1 971.7V975.9"/><path class="g" d="M1244.8 971.8V975.4"/><path class="r" d="M1245.4 972.1V975.7"/><path class="g" d="M1246.0 970.8V975.4M1246.6 970.6V975.0"/><path class="r" d="M1247.2 970.9V974.5M1247.8 971.0V974.9M1248.4 971.4V975.0"/><path class="g" d="M1249.0 969.7V975.0M1249.7 965.3V973.4"/><path class="r" d="M1250.3 966.1V972.2"/><path class="g" d="M1250.9 967.5V973.0"/><path class="r" d="M1251.5 967.1V973.1"/><path class="g" d="M1252.1 967.1V972.8M1252.7 967.1V971.9M1253.3 965.7V970.4"/><path class="r" d="M1253.9 965.6V971.3"/><path class="g" d="M1254.5 965.1V970.5"/><path class="r" d="M1255.2 965.5V970.9M1255.8 966.4V970.5M1256.4 967.2V972.7"/><path class="g" d="M1257.0 965.6V972.8M1257.6 965.7V970.3M1258.2 965.9V969.9M1258.8 964.2V970.2M1259.4 964.1V968.1M1260.0 963.0V967.2M1260.7 962.5V967.3M1261.3 961.7V965.9M1261.9 959.9V965.8"/><path class="r" d="M1262.5 959.3V965.4M1263.1 961.9V968.6M1263.7 964.0V970.3"/><path class="g" d="M1264.3 965.3V970.5"/><path class="r" d="M1264.9 965.4V970.8"/><path class="g" d="M1265.5 966.6V971.3M1266.2 964.0V970.8M1266.8 964.9V968.6M1267.4 961.7V969.0M1268.0 960.9V965.9M1268.6 956.4V964.6"/><path class="r" d="M1269.2 957.2V962.7M1269.8 956.7V962.2"/><path class="g" d="M1270.4 955.0V962.5"/><path class="r" d="M1271.0 953.8V963.3"/><path class="g" d="M1271.7 955.6V964.2"/><path class="r" d="M1272.3 957.7V962.2"/><path class="g" d="M1272.9 954.3V962.1"/><path class="r" d="M1273.5 954.5V959.7M1274.1 955.8V962.9"/><path class="g" d="M1274.7 954.9V962.7M1275.3 951.7V958.7M1275.9 952.1V956.0M1276.5 948.1V957.1M1277.2 945.5V953.5M1277.8 941.1V950.4"/><path class="r" d="M1278.4 942.3V949.5"/><path class="g" d="M1279.0 939.5V951.1"/><path class="r" d="M1279.6 941.6V947.4"/><path class="g" d="M1280.2 938.9V947.7"/><path class="r" d="M1280.8 936.4V949.3M1281.4 943.0V957.6"/><path class="g" d="M1282.0 945.1V955.5"/><path class="r" d="M1282.7 945.9V950.6"/><path class="g" d="M1283.3 942.8V952.0"/><path class="r" d="M1283.9 943.5V947.5"/><path class="g" d="M1284.5 940.8V947.8M1285.1 940.8V944.7"/><path class="r" d="M1285.7 940.5V947.7M1286.3 942.1V947.5M1286.9 943.5V948.0M1287.5 942.3V949.1M1288.2 945.5V950.5"/><path class="g" d="M1288.8 946.3V949.9"/><path class="r" d="M1289.4 946.3V952.0"/><path class="g" d="M1290.0 947.7V953.1M1290.6 945.6V952.3M1291.2 943.0V950.8M1291.8 944.2V949.6M1292.4 938.8V948.4M1293.0 934.8V943.2"/><path class="r" d="M1293.7 935.2V941.7"/><path class="g" d="M1294.3 933.6V942.5"/><path class="r" d="M1294.9 934.1V942.0M1295.5 936.4V941.5"/><path class="g" d="M1296.1 936.4V942.2M1296.7 935.4V942.1"/><path class="r" d="M1297.3 936.4V940.7M1297.9 936.8V945.7"/><path class="g" d="M1298.6 939.4V946.1M1299.2 934.4V943.9M1299.8 931.1V939.0M1300.4 927.2V934.9M1301.0 922.8V933.0M1301.6 922.0V928.6M1302.2 921.6V928.9M1302.8 919.8V926.6M1303.4 907.9V926.9M1304.1 895.6V912.2M1304.7 891.3V909.9M1305.3 877.9V896.8M1305.9 866.8V889.6M1306.5 861.7V874.0"/><path class="r" d="M1307.1 860.9V870.8M1307.7 862.7V873.3"/><path class="g" d="M1308.3 851.0V872.6"/><path class="r" d="M1308.9 849.9V870.9M1309.6 857.0V903.0"/><path class="g" d="M1310.2 864.0V886.3"/><path class="r" d="M1310.8 868.3V874.7"/><path class="g" d="M1311.4 858.3V876.1M1312.0 851.2V865.8M1312.6 848.1V860.7M1313.2 841.8V859.1"/><path class="r" d="M1313.8 842.4V850.1"/><path class="g" d="M1314.4 834.3V860.7"/><path class="r" d="M1315.1 837.1V869.7M1315.7 857.3V884.1"/><path class="g" d="M1316.3 865.4V879.3M1316.9 867.8V873.8M1317.5 853.0V872.4M1318.1 847.5V862.9"/><path class="r" d="M1318.7 844.8V862.9"/><path class="g" d="M1319.3 856.5V864.1M1319.9 848.3V865.0M1320.6 837.8V860.5"/><path class="r" d="M1321.2 833.5V848.2"/><path class="g" d="M1321.8 832.4V850.9M1322.4 819.6V839.6M1323.0 792.0V832.8"/><path class="r" d="M1323.6 801.6V815.6"/><path class="g" d="M1324.2 802.4V813.8M1324.8 796.3V809.8M1325.4 781.4V806.5M1326.1 778.4V790.3M1326.7 776.5V790.5"/><path class="r" d="M1327.3 774.6V800.9M1327.9 790.5V800.3"/><path class="g" d="M1328.5 786.9V799.5M1329.1 773.4V796.9"/><path class="r" d="M1329.7 777.4V798.3M1330.3 784.4V796.9M1330.9 786.2V816.2"/><path class="g" d="M1331.6 789.0V815.2M1332.2 789.1V804.1M1332.8 776.3V797.0M1333.4 766.2V785.3"/><path class="r" d="M1334.0 758.4V791.2"/><path class="g" d="M1334.6 767.9V780.4"/><path class="r" d="M1335.2 764.1V806.4M1335.8 791.3V846.8M1336.4 812.4V829.5M1337.1 820.5V835.6M1337.7 825.5V837.2"/><path class="g" d="M1338.3 826.5V836.8"/><path class="r" d="M1338.9 830.5V854.4"/><path class="g" d="M1339.5 831.2V843.1M1340.1 826.4V838.3M1340.7 816.0V836.6M1341.3 797.2V824.9M1342.0 796.1V811.0M1342.6 786.5V805.1"/><path class="r" d="M1343.2 790.2V800.2"/><path class="g" d="M1343.8 768.8V800.5"/><path class="r" d="M1344.4 768.3V789.2"/><path class="g" d="M1345.0 775.2V786.1M1345.6 769.8V786.2M1346.2 759.0V780.8"/><path class="r" d="M1346.8 763.7V777.0M1347.5 764.0V789.1"/><path class="g" d="M1348.1 768.5V791.5"/><path class="r" d="M1348.7 770.1V788.6M1349.3 783.0V795.7"/><path class="g" d="M1349.9 782.2V796.7M1350.5 781.8V788.0M1351.1 767.9V789.8"/><path class="r" d="M1351.7 777.1V799.8M1352.3 788.3V811.8"/><path class="g" d="M1353.0 800.3V814.5"/><path class="r" d="M1353.6 799.2V819.6M1354.2 810.2V820.7M1354.8 815.8V830.0"/><path class="g" d="M1355.4 808.7V828.9M1356.0 798.1V821.5M1356.6 787.6V815.9M1357.2 783.5V797.4M1357.8 770.8V792.7M1358.5 753.6V782.5M1359.1 737.4V764.5M1359.7 732.9V751.4"/><path class="r" d="M1360.3 727.7V755.0M1360.9 730.1V771.2M1361.5 755.6V781.1"/><path class="g" d="M1362.1 763.6V779.5M1362.7 747.7V773.2M1363.3 732.7V756.2"/><path class="r" d="M1364.0 737.0V752.2"/><path class="g" d="M1364.6 725.6V753.9"/><path class="r" d="M1365.2 720.9V745.7"/><path class="g" d="M1365.8 727.5V745.5M1366.4 705.4V736.7M1367.0 691.9V715.2"/><path class="r" d="M1367.6 693.1V725.5"/><path class="g" d="M1368.2 716.4V727.0"/><path class="r" d="M1368.8 718.0V772.2"/><path class="g" d="M1369.5 699.8V747.6"/><path class="r" d="M1370.1 714.1V728.0"/><path class="g" d="M1370.7 713.3V728.5M1371.3 711.3V730.9M1371.9 706.0V727.1"/><path class="r" d="M1372.5 709.6V728.5"/><path class="g" d="M1373.1 715.4V733.5M1373.7 709.3V729.4M1374.3 698.4V721.2M1375.0 676.8V706.6M1375.6 664.6V695.6M1376.2 640.6V676.4M1376.8 613.5V651.5M1377.4 583.5V630.8M1378.0 575.0V596.4M1378.6 551.8V593.5M1379.2 534.1V569.8M1379.8 522.8V546.3"/><path class="r" d="M1380.5 509.8V537.2"/><path class="g" d="M1381.1 517.2V536.7M1381.7 467.2V539.3"/><path class="r" d="M1382.3 466.4V525.8"/><path class="g" d="M1382.9 462.7V538.4"/><path class="r" d="M1383.5 476.9V512.9M1384.1 500.9V519.2"/><path class="g" d="M1384.7 488.8V524.7"/><path class="r" d="M1385.3 497.5V528.0M1386.0 500.2V569.3M1386.6 558.6V602.7"/><path class="g" d="M1387.2 586.3V604.1"/><path class="r" d="M1387.8 581.5V772.2"/><path class="g" d="M1388.4 660.4V710.3"/><path class="r" d="M1389.0 662.4V693.0M1389.6 681.1V719.1M1390.2 711.8V799.4"/><path class="g" d="M1390.9 707.9V755.1M1391.5 664.7V716.6M1392.1 646.7V676.8"/><path class="r" d="M1392.7 630.7V689.2M1393.3 681.6V714.5M1393.9 702.5V743.1"/><path class="g" d="M1394.5 700.1V733.9M1395.1 695.9V716.1M1395.7 689.3V714.8M1396.4 683.8V700.4M1397.0 646.2V707.4M1397.6 644.8V668.3"/><path class="r" d="M1398.2 640.2V685.3M1398.8 676.6V699.6"/><path class="g" d="M1399.4 683.0V693.8"/><path class="r" d="M1400.0 685.0V703.9"/><path class="g" d="M1400.6 667.8V703.7"/><path class="r" d="M1401.2 674.0V700.0M1401.9 681.0V722.8M1402.5 709.9V723.5"/><path class="g" d="M1403.1 706.6V721.8M1403.7 694.4V716.1M1404.3 688.3V707.9"/><path class="r" d="M1404.9 692.7V733.4M1405.5 726.0V754.7M1406.1 739.1V770.2"/><path class="g" d="M1406.7 748.6V760.3"/><path class="r" d="M1407.4 752.4V777.4M1408.0 769.8V787.9M1408.6 764.8V803.8M1409.2 772.9V793.0"/><path class="g" d="M1409.8 775.1V793.6"/><path class="r" d="M1410.4 775.2V791.2M1411.0 782.5V801.3"/><path class="g" d="M1411.6 766.8V790.1M1412.2 756.2V779.0M1412.9 733.4V768.1M1413.5 735.6V759.8M1414.1 734.3V743.1"/><path class="r" d="M1414.7 731.3V747.7"/><path class="g" d="M1415.3 717.9V753.6M1415.9 714.1V735.9"/><path class="r" d="M1416.5 719.6V735.2M1417.1 723.6V745.9"/><path class="g" d="M1417.7 716.4V740.1"/><path class="r" d="M1418.4 718.8V742.5M1419.0 733.5V757.5M1419.6 750.5V763.1M1420.2 757.7V771.8"/><path class="g" d="M1420.8 757.7V778.0"/><path class="r" d="M1421.4 756.3V779.9"/><path class="g" d="M1422.0 766.1V774.7"/><path class="r" d="M1422.6 765.4V784.3"/><path class="g" d="M1423.2 774.0V783.8"/><path class="r" d="M1423.9 772.4V795.9M1424.5 782.8V793.1"/><path class="g" d="M1425.1 775.1V795.8"/><path class="r" d="M1425.7 778.2V801.3"/><path class="g" d="M1426.3 775.3V799.1M1426.9 770.1V785.0"/><path class="r" d="M1427.5 762.6V786.5"/><path class="g" d="M1428.1 747.2V789.2M1428.7 746.7V764.2M1429.4 730.0V763.9M1430.0 719.9V744.5M1430.6 704.3V729.3"/><path class="r" d="M1431.2 694.7V721.7"/><path class="g" d="M1431.8 690.6V720.0M1432.4 690.5V713.3M1433.0 679.9V711.8"/><path class="r" d="M1433.6 670.2V702.1"/><path class="g" d="M1434.3 681.4V694.2M1434.9 652.6V689.1M1435.5 628.4V675.3M1436.1 620.9V645.6M1436.7 607.1V634.7"/><path class="r" d="M1437.3 606.1V636.1"/><path class="g" d="M1437.9 608.6V641.7M1438.5 599.8V629.2"/><path class="r" d="M1439.1 589.1V624.2M1439.8 607.6V632.9"/><path class="g" d="M1440.4 616.7V630.3M1441.0 601.2V636.8M1441.6 592.4V629.3"/><path class="r" d="M1442.2 598.0V637.0"/><path class="g" d="M1442.8 600.9V627.0"/><path class="r" d="M1443.4 592.4V649.0"/><path class="g" d="M1444.0 599.2V642.3"/><path class="r" d="M1444.6 602.6V641.6"/><path class="g" d="M1445.3 596.3V633.2M1445.9 580.0V614.7M1446.5 591.4V602.8"/><path class="r" d="M1447.1 591.4V642.2M1447.7 613.7V636.8"/><path class="g" d="M1448.3 616.6V638.9M1448.9 603.2V632.9M1449.5 572.6V615.4M1450.1 554.7V584.9"/><path class="r" d="M1450.8 552.9V577.6"/><path class="g" d="M1451.4 544.4V584.5M1452.0 522.2V556.0M1452.6 506.9V550.7"/><path class="r" d="M1453.2 506.9V530.4M1453.8 507.1V531.3"/><path class="g" d="M1454.4 507.5V540.1"/><path class="r" d="M1455.0 507.7V532.7M1455.6 517.0V639.5M1456.3 575.0V609.7M1456.9 579.0V624.8"/><path class="g" d="M1457.5 594.0V611.7M1458.1 585.1V610.3M1458.7 580.8V604.9"/><path class="r" d="M1459.3 576.0V598.1M1459.9 586.3V612.8"/><path class="g" d="M1460.5 566.3V608.8M1461.1 543.8V586.5"/><path class="r" d="M1461.8 552.4V604.3M1462.4 582.3V618.9M1463.0 604.9V642.6M1463.6 631.4V645.2M1464.2 624.5V683.7"/><path class="g" d="M1464.8 640.5V672.7M1465.4 638.2V653.8"/><path class="r" d="M1466.0 632.9V671.4"/><path class="g" d="M1466.6 640.8V670.1"/><path class="r" d="M1467.3 644.6V668.5M1467.9 654.7V704.5"/><path class="g" d="M1468.5 656.9V692.8M1469.1 653.1V667.3M1469.7 613.5V661.5M1470.3 580.7V632.7M1470.9 569.3V604.1"/><path class="r" d="M1471.5 567.9V605.0"/><path class="g" d="M1472.1 578.3V610.6M1472.8 584.2V600.5M1473.4 570.0V594.7M1474.0 550.1V589.3"/><path class="r" d="M1474.6 551.2V580.2"/><path class="g" d="M1475.2 528.9V574.7"/><path class="r" d="M1475.8 521.9V561.8"/><path class="g" d="M1476.4 543.5V566.7"/><path class="r" d="M1477.0 539.0V581.9M1477.7 569.0V609.2M1478.3 584.4V602.0"/><path class="g" d="M1478.9 521.0V604.5"/><path class="r" d="M1479.5 517.9V541.1"/><path class="g" d="M1480.1 525.4V545.5M1480.7 493.1V546.2M1481.3 496.0V521.2"/><path class="r" d="M1481.9 496.3V553.3"/><path class="g" d="M1482.5 463.3V522.3M1483.2 459.4V510.1"/><path class="r" d="M1483.8 462.4V525.5M1484.4 505.2V518.0"/><path class="g" d="M1485.0 503.8V518.3"/><path class="r" d="M1485.6 494.2V569.0"/><path class="g" d="M1486.2 510.7V554.9M1486.8 485.4V524.6M1487.4 453.6V507.7"/><path class="r" d="M1488.0 449.5V469.9M1488.7 455.1V475.0M1489.3 462.0V491.2"/><path class="g" d="M1489.9 440.2V485.0M1490.5 425.7V456.2M1491.1 419.3V443.6"/><path class="r" d="M1491.7 417.6V450.7"/><path class="g" d="M1492.3 424.7V455.9M1492.9 417.3V441.4M1493.5 398.0V441.8"/><path class="r" d="M1494.2 400.2V448.7M1494.8 400.7V452.4"/><path class="g" d="M1495.4 398.0V444.2M1496.0 397.4V401.0M1496.6 397.4V401.0"/><path class="r" d="M1497.2 398.0V426.6M1497.8 412.1V452.8M1498.4 435.2V475.5M1499.0 450.0V521.0"/><path class="g" d="M1499.7 467.7V526.3"/><path class="r" d="M1500.3 490.7V532.6M1500.9 516.9V531.3"/><path class="g" d="M1501.5 487.6V545.8M1502.1 492.8V506.7M1502.7 440.9V508.1"/><path class="r" d="M1503.3 461.0V489.8"/><path class="g" d="M1503.9 433.0V490.3"/><path class="r" d="M1504.5 434.3V517.5"/><path class="g" d="M1505.2 496.4V515.3M1505.8 469.8V519.5M1506.4 427.4V504.4M1507.0 412.3V463.2"/><path class="r" d="M1507.6 411.9V445.3M1508.2 422.0V468.1M1508.8 440.1V492.0M1509.4 480.4V573.1"/><path class="g" d="M1510.0 465.4V502.1"/><path class="r" d="M1510.7 449.8V496.0"/><path class="g" d="M1511.3 469.8V510.1M1511.9 450.1V487.2"/><path class="r" d="M1512.5 445.7V496.9"/><path class="g" d="M1513.1 461.3V498.9"/><path class="r" d="M1513.7 465.9V490.2M1514.3 460.1V507.7M1514.9 492.4V544.3M1515.5 527.1V567.4M1516.2 539.8V575.7"/><path class="g" d="M1516.8 554.4V577.7M1517.4 514.2V571.6M1518.0 501.8V531.3M1518.6 484.3V521.9"/><path class="r" d="M1519.2 495.0V526.8M1519.8 506.1V553.9"/><path class="g" d="M1520.4 515.9V558.5"/><path class="r" d="M1521.0 530.5V553.4"/><path class="g" d="M1521.7 506.3V558.5M1522.3 512.4V528.3M1522.9 492.7V523.9M1523.5 498.1V521.7"/><path class="r" d="M1524.1 502.0V530.0M1524.7 512.7V562.1M1525.3 553.3V570.2"/><path class="g" d="M1525.9 542.2V568.5"/><path class="r" d="M1526.6 541.4V575.3"/><path class="g" d="M1527.2 541.9V567.3M1527.8 530.0V555.5M1528.4 534.3V552.3"/><path class="r" d="M1529.0 534.9V579.4M1529.6 570.8V595.0M1530.2 586.0V619.4M1530.8 607.5V628.0M1531.4 615.4V635.1M1532.1 614.3V648.3M1532.7 622.7V648.9"/><path class="g" d="M1533.3 610.9V638.2M1533.9 608.8V621.8M1534.5 585.7V624.0M1535.1 568.8V602.8"/><path class="r" d="M1535.7 572.0V606.8M1536.3 587.3V626.1M1536.9 616.0V637.4M1537.6 629.1V672.7M1538.2 656.8V683.9M1538.8 673.5V696.9M1539.4 685.8V717.9M1540.0 704.0V725.1"/><path class="g" d="M1540.6 695.2V745.7M1541.2 693.2V715.9M1541.8 670.7V700.2"/><path class="r" d="M1542.4 672.3V705.4"/><path class="g" d="M1543.1 674.1V697.8"/><path class="r" d="M1543.7 674.9V692.3"/><path class="g" d="M1544.3 668.8V692.7"/><path class="r" d="M1544.9 664.4V684.3"/><path class="g" d="M1545.5 670.1V682.4"/><path class="r" d="M1546.1 669.8V684.9"/><path class="g" d="M1546.7 663.3V687.5M1547.3 637.1V681.7M1547.9 625.1V650.8"/><path class="r" d="M1548.6 623.7V641.5"/><path class="g" d="M1549.2 614.7V640.0M1549.8 604.9V623.7"/><path class="r" d="M1550.4 606.8V634.2M1551.0 616.3V633.7"/><path class="g" d="M1551.6 614.5V636.9M1552.2 607.0V638.3M1552.8 602.2V620.1M1553.4 601.1V608.4"/><path class="r" d="M1554.1 601.1V621.8M1554.7 607.6V623.5M1555.3 614.5V628.2M1555.9 617.8V672.6M1556.5 651.0V684.6M1557.1 671.6V687.7M1557.7 674.9V699.1"/><path class="g" d="M1558.3 681.6V699.9M1558.9 681.3V693.5"/><path class="r" d="M1559.6 672.5V728.0"/><path class="g" d="M1560.2 662.0V696.6M1560.8 658.5V680.4M1561.4 642.8V683.7M1562.0 637.9V652.4M1562.6 635.0V658.2M1563.2 625.4V645.9"/><path class="r" d="M1563.8 614.7V660.8M1564.4 647.0V676.8M1565.1 660.7V675.5M1565.7 666.1V689.2M1566.3 679.9V707.1M1566.9 699.3V710.3M1567.5 704.2V710.3"/><path class="g" d="M1568.1 703.1V710.3M1568.7 698.5V710.3M1569.3 691.8V704.9M1570.0 690.6V704.1M1570.6 688.8V704.3M1571.2 664.8V699.7"/><path class="r" d="M1571.8 670.2V684.5"/><path class="g" d="M1572.4 648.2V679.4M1573.0 632.3V664.4"/><path class="r" d="M1573.6 642.8V655.6"/><path class="g" d="M1574.2 642.8V655.8M1574.8 617.8V657.3M1575.5 616.9V636.3M1576.1 598.9V639.0M1576.7 599.4V619.0"/><path class="r" d="M1577.3 599.8V616.4"/><path class="g" d="M1577.9 598.5V620.4"/><path class="r" d="M1578.5 598.4V622.8"/><path class="g" d="M1579.1 588.3V619.6M1579.7 574.4V599.9"/><path class="r" d="M1580.3 582.2V606.0"/><path class="g" d="M1581.0 590.7V617.6M1581.6 585.4V604.2M1582.2 574.6V610.1M1582.8 563.8V590.5"/><path class="r" d="M1583.4 568.4V590.7M1584.0 579.5V602.9M1584.6 594.4V625.4M1585.2 613.8V627.3M1585.8 615.1V637.0"/><path class="g" d="M1586.5 616.4V634.4"/><path class="r" d="M1587.1 619.4V632.5M1587.7 621.4V644.0M1588.3 635.5V655.9"/><path class="g" d="M1588.9 636.6V649.9M1589.5 631.5V648.0M1590.1 617.1V642.9"/><path class="r" d="M1590.7 617.2V631.1M1591.3 622.3V635.5"/><path class="g" d="M1592.0 619.8V634.4"/><path class="r" d="M1592.6 616.8V636.1"/><path class="g" d="M1593.2 619.9V638.0"/><path class="r" d="M1593.8 623.3V643.4M1594.4 636.5V656.2M1595.0 646.7V670.9"/><path class="g" d="M1595.6 650.9V675.1M1596.2 637.2V659.9"/><path class="r" d="M1596.8 638.6V666.5"/><path class="g" d="M1597.5 648.0V667.2"/><path class="r" d="M1598.1 658.3V683.6"/><path class="g" d="M1598.7 658.4V688.7"/><path class="r" d="M1599.3 661.5V678.6M1599.9 668.8V680.0"/><path class="g" d="M1600.5 657.5V682.2M1601.1 655.5V685.7M1601.7 639.1V667.3"/><path class="r" d="M1602.3 634.5V649.9M1603.0 639.0V670.8M1603.6 660.7V693.6M1604.2 679.1V712.9M1604.8 699.2V743.1M1605.4 725.9V756.4M1606.0 747.7V761.7M1606.6 742.0V797.5"/><path class="g" d="M1607.2 755.1V781.6M1607.8 747.5V765.0M1608.5 737.5V755.3"/><path class="r" d="M1609.1 743.4V761.5M1609.7 749.9V765.1"/><path class="g" d="M1610.3 756.1V764.6"/><path class="r" d="M1610.9 754.0V778.0M1611.5 759.3V773.6M1612.1 767.5V773.2M1612.7 767.0V787.2"/><path class="g" d="M1613.3 768.3V793.7"/><path class="r" d="M1614.0 765.8V789.8M1614.6 781.0V807.9"/><path class="g" d="M1615.2 792.5V807.7"/><path class="r" d="M1615.8 794.9V802.3"/><path class="g" d="M1616.4 787.5V805.2M1617.0 786.6V794.5M1617.6 769.6V798.0M1618.2 768.9V781.3"/><path class="r" d="M1618.9 766.9V776.5"/><path class="g" d="M1619.5 769.9V778.4"/><path class="r" d="M1620.1 768.3V790.5M1620.7 780.5V794.2"/><path class="g" d="M1621.3 777.5V791.3"/><path class="r" d="M1621.9 778.8V787.0M1622.5 770.7V797.8M1623.1 788.6V800.5M1623.7 788.3V800.0M1624.4 792.2V816.7M1625.0 803.7V825.5M1625.6 813.4V844.1M1626.2 836.8V872.2"/><path class="g" d="M1626.8 860.7V867.8M1627.4 858.3V891.0"/><path class="r" d="M1628.0 858.4V875.0M1628.6 865.0V877.7M1629.2 873.5V907.5"/><path class="g" d="M1629.9 886.1V899.9M1630.5 882.2V894.4M1631.1 873.3V887.6"/><path class="r" d="M1631.7 872.3V878.9M1632.3 873.6V879.7"/><path class="g" d="M1632.9 868.2V881.1M1633.5 863.2V877.3M1634.1 862.7V869.1"/><path class="r" d="M1634.7 861.4V874.2M1635.4 866.2V876.3M1636.0 867.4V885.4M1636.6 876.6V892.3"/><path class="g" d="M1637.2 868.8V885.4"/><path class="r" d="M1637.8 868.8V880.0"/><path class="g" d="M1638.4 865.0V879.6"/><path class="r" d="M1639.0 862.5V876.4"/><path class="g" d="M1639.6 867.6V878.8M1640.2 866.8V874.0M1640.9 858.9V871.4"/><path class="r" d="M1641.5 856.1V872.2M1642.1 866.3V873.7M1642.7 868.5V876.0M1643.3 871.0V884.6M1643.9 874.2V887.8"/><path class="g" d="M1644.5 871.7V889.0M1645.1 869.7V878.6M1645.7 861.5V879.3M1646.4 842.5V868.1M1647.0 830.4V849.8M1647.6 815.6V836.8"/><path class="r" d="M1648.2 811.7V823.5"/><path class="g" d="M1648.8 805.4V822.6M1649.4 805.0V816.8"/><path class="r" d="M1650.0 807.0V827.2"/><path class="g" d="M1650.6 811.5V826.2"/><path class="r" d="M1651.2 817.8V833.9"/><path class="g" d="M1651.9 818.1V832.5"/><path class="r" d="M1652.5 821.9V837.1"/><path class="g" d="M1653.1 814.6V837.7M1653.7 795.0V820.9"/><path class="r" d="M1654.3 797.4V805.6"/><path class="g" d="M1654.9 796.7V807.3"/><path class="r" d="M1655.5 798.3V820.6"/><path class="g" d="M1656.1 810.4V818.9M1656.7 801.2V816.7M1657.4 801.9V810.3"/><path class="r" d="M1658.0 802.4V819.6"/><path class="g" d="M1658.6 794.9V816.9M1659.2 789.4V804.8M1659.8 790.7V800.0M1660.4 788.9V797.9"/><path class="r" d="M1661.0 789.2V803.1"/><path class="g" d="M1661.6 787.8V801.5M1662.3 768.8V796.4M1662.9 765.3V779.6M1663.5 759.7V777.7"/><path class="r" d="M1664.1 763.4V775.5M1664.7 764.0V779.5M1665.3 769.8V785.4M1665.9 777.2V790.3M1666.5 784.0V812.0M1667.1 802.6V818.2M1667.8 811.2V824.7M1668.4 818.4V827.4"/><path class="g" d="M1669.0 819.4V831.7"/><path class="r" d="M1669.6 820.1V829.0M1670.2 820.4V833.7"/><path class="g" d="M1670.8 814.4V831.9"/><path class="r" d="M1671.4 817.5V828.8M1672.0 821.0V835.1M1672.6 826.1V841.9M1673.3 832.7V839.3"/><path class="g" d="M1673.9 824.1V839.9"/><path class="r" d="M1674.5 826.4V845.5"/><path class="g" d="M1675.1 828.6V843.8M1675.7 829.2V836.1M1676.3 817.3V835.3M1676.9 804.5V826.7"/><path class="r" d="M1677.5 807.5V817.9"/><path class="g" d="M1678.1 802.5V818.7M1678.8 800.5V807.9M1679.4 790.6V805.7M1680.0 786.5V799.5"/><path class="r" d="M1680.6 786.9V800.9M1681.2 788.3V801.7M1681.8 796.9V810.8M1682.4 805.1V823.4M1683.0 816.1V831.1M1683.6 821.4V836.7M1684.3 829.2V844.4M1684.9 839.4V848.1M1685.5 841.4V852.6M1686.1 843.2V855.8M1686.7 846.8V854.5M1687.3 839.3V864.5M1687.9 855.1V864.7"/><path class="g" d="M1688.5 851.4V862.4M1689.1 850.9V864.4"/><path class="r" d="M1689.8 851.2V857.1"/><path class="g" d="M1690.4 845.4V859.5M1691.0 845.1V853.4M1691.6 838.1V851.4M1692.2 838.1V844.4M1692.8 837.5V841.1M1693.4 837.5V841.1"/><path class="r" d="M1694.0 838.1V845.8"/><path class="g" d="M1694.6 838.1V843.0"/><path class="r" d="M1695.3 838.1V848.8"/><path class="g" d="M1695.9 842.9V849.3"/><path class="r" d="M1696.5 842.0V859.2"/><path class="g" d="M1697.1 844.7V858.1M1697.7 839.1V850.9M1698.3 843.7V850.1"/><path class="r" d="M1698.9 839.6V853.4M1699.5 843.7V859.5"/><path class="g" d="M1700.1 849.1V863.8"/><path class="r" d="M1700.8 851.0V859.4M1701.4 853.1V868.6"/><path class="g" d="M1702.0 850.9V866.9"/><path class="r" d="M1702.6 851.0V865.0"/><path class="g" d="M1703.2 858.4V863.3"/><path class="r" d="M1703.8 856.4V867.2"/><path class="g" d="M1704.4 851.8V865.1"/><path class="r" d="M1705.0 851.4V858.1M1705.7 853.1V861.8"/><path class="g" d="M1706.3 841.0V861.3M1706.9 839.3V848.8M1707.5 838.1V852.8M1708.1 827.8V845.9M1708.7 812.7V835.0"/><path class="r" d="M1709.3 813.2V825.7"/><path class="g" d="M1709.9 818.3V825.5"/><path class="r" d="M1710.5 816.2V827.1"/><path class="g" d="M1711.2 810.4V827.6"/><path class="r" d="M1711.8 804.7V823.1"/><path class="g" d="M1712.4 811.2V824.4"/><path class="r" d="M1713.0 812.2V822.5"/><path class="g" d="M1713.6 805.5V825.3M1714.2 804.3V822.0"/><path class="r" d="M1714.8 800.9V812.0M1715.4 805.5V829.1M1716.0 823.5V835.3M1716.7 828.8V854.5M1717.3 846.9V882.8"/><path class="g" d="M1717.9 849.4V882.5"/><path class="r" d="M1718.5 850.7V858.1"/><path class="g" d="M1719.1 849.4V857.0"/><path class="r" d="M1719.7 845.3V860.8M1720.3 854.9V864.1M1720.9 856.0V872.3M1721.5 866.6V876.5M1722.2 870.6V882.8"/><path class="g" d="M1722.8 876.9V882.7M1723.4 873.7V882.8"/><path class="r" d="M1724.0 872.9V881.2"/><path class="g" d="M1724.6 872.2V882.8M1725.2 871.8V879.2M1725.8 863.7V875.6"/><path class="r" d="M1726.4 864.5V871.9"/><path class="g" d="M1727.0 865.5V875.3M1727.7 865.5V874.4M1728.3 859.8V871.5M1728.9 853.0V864.9M1729.5 848.0V858.0"/><path class="r" d="M1730.1 846.0V858.5"/><path class="g" d="M1730.7 846.2V856.9M1731.3 838.6V851.2"/><path class="r" d="M1731.9 841.8V849.6M1732.5 843.4V855.7M1733.2 846.0V860.9"/><path class="g" d="M1733.8 845.8V860.8M1734.4 843.0V850.8M1735.0 839.0V853.2"/><path class="r" d="M1735.6 838.2V848.9"/><path class="g" d="M1736.2 842.4V854.0M1736.8 842.1V849.8M1737.4 840.7V847.9"/><path class="r" d="M1738.0 839.3V856.0M1738.7 847.1V854.1M1739.3 848.2V863.3M1739.9 852.3V859.0M1740.5 848.7V870.0M1741.1 865.3V871.7M1741.7 863.5V872.1"/><path class="g" d="M1742.3 864.3V873.1"/><path class="r" d="M1742.9 862.2V870.9M1743.5 862.9V873.9"/><path class="g" d="M1744.2 868.6V874.4M1744.8 864.3V874.4"/><path class="r" d="M1745.4 863.6V874.6"/><path class="g" d="M1746.0 863.0V877.3"/><path class="r" d="M1746.6 862.5V872.6M1747.2 865.9V877.0"/><path class="g" d="M1747.8 855.0V876.3"/><path class="r" d="M1748.4 858.1V870.8M1749.0 860.4V871.9M1749.7 859.6V876.9M1750.3 871.3V876.8"/><path class="g" d="M1750.9 872.6V876.9M1751.5 869.8V876.5M1752.1 867.9V873.2M1752.7 862.8V873.9M1753.3 857.5V867.9M1753.9 852.0V862.3M1754.6 845.9V856.4M1755.2 840.7V850.3M1755.8 839.8V846.3M1756.4 827.9V844.5M1757.0 824.6V834.5M1757.6 816.8V828.9"/><path class="r" d="M1758.2 819.6V828.3"/><path class="g" d="M1758.8 814.3V828.2M1759.4 812.1V817.8M1760.1 807.7V818.9M1760.7 805.7V813.1M1761.3 801.8V811.7"/><path class="r" d="M1761.9 803.1V811.5"/><path class="g" d="M1762.5 806.1V813.4"/><path class="r" d="M1763.1 805.9V813.7M1763.7 808.3V821.4"/><path class="g" d="M1764.3 811.3V821.3M1764.9 809.9V818.3M1765.6 808.1V816.3"/><path class="r" d="M1766.2 809.3V814.9"/><path class="g" d="M1766.8 808.9V815.2"/><path class="r" d="M1767.4 810.0V815.3"/><path class="g" d="M1768.0 801.6V815.6"/><path class="r" d="M1768.6 801.3V811.9M1769.2 807.7V812.2"/><path class="g" d="M1769.8 802.6V812.0"/><path class="r" d="M1770.4 802.9V814.1M1771.1 806.2V823.9"/><path class="g" d="M1771.7 816.3V822.3M1772.3 815.3V821.8"/><path class="r" d="M1772.9 816.9V826.6"/><path class="g" d="M1773.5 818.8V826.0"/><path class="r" d="M1774.1 817.3V824.8"/><path class="g" d="M1774.7 814.4V824.6"/><path class="r" d="M1775.3 815.1V822.7"/><path class="g" d="M1775.9 811.7V821.4M1776.6 808.7V816.3M1777.2 801.5V814.3M1777.8 801.7V806.9M1778.4 799.9V807.7"/><path class="r" d="M1779.0 800.3V809.3"/><path class="g" d="M1779.6 801.5V808.7M1780.2 801.8V808.2M1780.8 801.9V808.0"/><path class="r" d="M1781.4 801.7V810.5M1782.1 803.9V817.1M1782.7 810.7V817.9"/><path class="g" d="M1783.3 813.0V818.2"/><path class="r" d="M1783.9 814.0V821.0"/><path class="g" d="M1784.5 812.3V819.9"/><path class="r" d="M1785.1 811.9V818.4"/><path class="g" d="M1785.7 810.0V817.0M1786.3 809.6V814.0"/><path class="r" d="M1786.9 808.6V818.4M1787.6 811.1V824.1"/><path class="g" d="M1788.2 814.5V821.7"/><path class="r" d="M1788.8 817.0V827.1M1789.4 820.5V830.4M1790.0 825.4V834.2M1790.6 827.6V836.9M1791.2 833.0V845.5"/><path class="g" d="M1791.8 820.4V839.2M1792.4 813.6V825.1M1793.1 808.2V818.5M1793.7 799.9V813.4M1794.3 790.6V805.6M1794.9 787.4V799.2M1795.5 785.6V793.3"/><path class="r" d="M1796.1 788.0V794.9"/><path class="g" d="M1796.7 785.6V793.7"/><path class="r" d="M1797.3 784.0V796.4M1798.0 790.6V802.1"/><path class="g" d="M1798.6 792.3V803.4"/><path class="r" d="M1799.2 792.1V804.2M1799.8 799.4V809.1"/><path class="g" d="M1800.4 802.7V809.1"/><path class="r" d="M1801.0 803.9V808.7"/><path class="g" d="M1801.6 797.1V809.3M1802.2 792.2V803.4M1802.8 788.3V799.2"/><path class="r" d="M1803.5 787.0V793.6"/><path class="g" d="M1804.1 781.2V795.7M1804.7 774.2V786.0M1805.3 768.3V781.1"/><path class="r" d="M1805.9 767.7V774.7"/><path class="g" d="M1806.5 767.5V775.6"/><path class="r" d="M1807.1 768.0V781.6M1807.7 773.4V787.6"/><path class="g" d="M1808.3 780.3V788.0M1809.0 774.5V785.2M1809.6 774.4V781.7M1810.2 765.5V779.3M1810.8 765.0V771.1M1811.4 761.4V770.1M1812.0 760.8V769.8M1812.6 759.0V765.6M1813.2 751.6V764.6M1813.8 745.8V757.1"/><path class="r" d="M1814.5 746.2V763.8M1815.1 758.1V770.3M1815.7 762.7V778.2M1816.3 768.5V779.3M1816.9 774.2V787.8"/><path class="g" d="M1817.5 774.1V785.6"/><path class="r" d="M1818.1 771.2V792.3"/><path class="g" d="M1818.7 782.2V793.7M1819.3 779.8V790.0M1820.0 779.4V783.6"/><path class="r" d="M1820.6 778.7V787.4"/><path class="g" d="M1821.2 772.8V784.8"/><path class="r" d="M1821.8 774.1V787.6"/><path class="g" d="M1822.4 772.8V785.7"/><path class="r" d="M1823.0 774.5V785.2"/><path class="g" d="M1823.6 768.1V782.4M1824.2 763.9V775.2"/><path class="r" d="M1824.8 763.2V770.8"/><path class="g" d="M1825.5 763.1V770.5"/><path class="r" d="M1826.1 761.9V772.2M1826.7 766.3V780.7M1827.3 773.1V788.0"/><path class="g" d="M1827.9 781.1V785.4"/><path class="r" d="M1828.5 780.6V788.1M1829.1 784.4V792.4"/><path class="g" d="M1829.7 787.0V794.3"/><path class="r" d="M1830.3 786.4V796.6"/><path class="g" d="M1831.0 787.5V798.5M1831.6 786.2V794.9M1832.2 784.0V791.8"/><path class="r" d="M1832.8 783.3V793.5M1833.4 788.7V795.2M1834.0 790.6V796.8"/><path class="g" d="M1834.6 785.1V799.7M1835.2 780.6V790.1"/><path class="r" d="M1835.8 781.2V793.4"/><path class="g" d="M1836.5 785.2V793.9M1837.1 782.6V790.3M1837.7 776.9V787.8"/><path class="r" d="M1838.3 776.1V784.6M1838.9 779.9V788.0"/><path class="g" d="M1839.5 772.0V786.4M1840.1 770.3V778.9"/><path class="r" d="M1840.7 772.3V780.1M1841.3 772.3V786.7M1842.0 779.7V789.0"/><path class="g" d="M1842.6 779.6V789.5"/><path class="r" d="M1843.2 780.5V788.6M1843.8 781.2V793.5"/><path class="g" d="M1844.4 786.1V792.6"/><path class="r" d="M1845.0 785.8V799.8M1845.6 794.5V803.5"/><path class="g" d="M1846.2 792.5V802.6M1846.9 788.3V800.8"/><path class="r" d="M1847.5 789.5V798.4"/><path class="g" d="M1848.1 792.9V798.3"/><path class="r" d="M1848.7 789.9V799.8M1849.3 795.3V805.1M1849.9 799.2V809.3M1850.5 803.9V812.7"/><path class="g" d="M1851.1 798.9V809.9M1851.7 800.0V807.0M1852.4 784.4V806.0M1853.0 779.4V794.0"/><path class="r" d="M1853.6 783.2V790.7"/><path class="g" d="M1854.2 779.1V788.3M1854.8 774.6V784.7M1855.4 773.3V780.4M1856.0 772.6V779.6M1856.6 769.6V778.8"/><path class="r" d="M1857.2 769.6V783.4M1857.9 777.0V784.9"/><path class="g" d="M1858.5 774.6V783.3M1859.1 766.6V779.8"/><path class="r" d="M1859.7 768.4V777.7"/><path class="g" d="M1860.3 764.3V775.9M1860.9 759.7V770.7"/><path class="r" d="M1861.5 759.7V766.9M1862.1 762.4V773.0"/><path class="g" d="M1862.7 765.3V771.5M1863.4 761.3V775.3"/><path class="r" d="M1864.0 761.8V770.9"/><path class="g" d="M1864.6 764.8V770.9M1865.2 763.7V771.7M1865.8 761.1V769.2M1866.4 759.7V768.8"/><path class="r" d="M1867.0 759.7V765.9M1867.6 760.3V782.3M1868.2 762.0V771.0M1868.9 762.8V776.6M1869.5 771.8V780.4"/><path class="g" d="M1870.1 773.1V778.6"/><path class="r" d="M1870.7 773.4V779.3"/><path class="g" d="M1871.3 771.3V779.3"/><path class="r" d="M1871.9 771.9V781.7M1872.5 775.3V784.6"/><path class="g" d="M1873.1 778.7V787.5M1873.7 776.9V785.2M1874.4 774.1V781.2"/><path class="r" d="M1875.0 773.4V784.5"/><path class="g" d="M1875.6 774.4V785.4M1876.2 775.1V781.8"/><path class="r" d="M1876.8 775.1V786.5M1877.4 779.3V788.5M1878.0 783.6V788.6"/><path class="g" d="M1878.6 779.9V787.7M1879.2 775.2V787.0"/><path class="r" d="M1879.9 776.0V783.2"/><path class="g" d="M1880.5 774.8V785.0"/><path class="r" d="M1881.1 775.5V787.1"/><path class="g" d="M1881.7 779.1V789.0M1882.3 777.1V787.2"/><path class="r" d="M1882.9 778.4V787.6"/><path class="g" d="M1883.5 780.9V786.8M1884.1 779.5V786.5"/><path class="r" d="M1884.7 778.2V789.3"/><path class="g" d="M1885.4 776.1V788.6"/><path class="r" d="M1886.0 777.2V787.1"/><path class="g" d="M1886.6 774.6V789.9"/><path class="r" d="M1887.2 776.6V787.5M1887.8 780.1V791.7M1888.4 786.1V802.1M1889.0 787.5V822.8M1889.6 802.9V808.3"/><path class="g" d="M1890.3 794.3V808.6M1890.9 795.5V802.8"/><path class="r" d="M1891.5 796.0V804.0"/><path class="g" d="M1892.1 792.7V801.2M1892.7 792.5V799.0"/><path class="r" d="M1893.3 791.6V800.1M1893.9 794.4V802.5M1894.5 797.0V808.5"/><path class="g" d="M1895.1 798.1V807.4"/><path class="r" d="M1895.8 798.0V804.0"/><path class="g" d="M1896.4 796.1V805.2"/><path class="r" d="M1897.0 795.7V803.1M1897.6 798.5V810.2M1898.2 803.7V813.4"/><path class="g" d="M1898.8 806.1V813.5M1899.4 804.2V810.7M1900.0 805.1V810.0"/><path class="r" d="M1900.6 804.4V814.9M1901.3 807.7V815.5"/><path class="g" d="M1901.9 805.4V813.7"/><path class="r" d="M1902.5 808.0V817.8M1903.1 808.2V820.0M1903.7 815.7V824.7M1904.3 819.3V825.0M1904.9 818.2V824.8"/><path class="g" d="M1905.5 816.7V827.2M1906.1 816.8V824.6M1906.8 815.3V820.5"/><path class="r" d="M1907.4 812.9V823.1"/><path class="g" d="M1908.0 811.9V824.7M1908.6 803.8V817.2"/><path class="r" d="M1909.2 808.2V815.6"/><path class="g" d="M1909.8 807.1V814.6M1910.4 802.2V812.9"/><path class="r" d="M1911.0 803.1V809.4M1911.6 803.2V810.4M1912.3 805.1V810.8"/><path class="g" d="M1912.9 801.1V810.3M1913.5 801.1V808.7"/><path class="r" d="M1914.1 803.7V808.3M1914.7 803.5V810.9"/><path class="g" d="M1915.3 801.6V811.4M1915.9 797.0V809.9M1916.5 795.1V806.1"/><path class="r" d="M1917.1 795.7V804.7M1917.8 799.2V806.4M1918.4 801.7V809.4M1919.0 803.0V809.6"/><path class="g" d="M1919.6 800.4V809.4"/><path class="r" d="M1920.2 801.9V814.2M1920.8 809.0V818.0M1921.4 811.0V824.5"/><path class="g" d="M1922.0 811.8V822.2"/><path class="r" d="M1922.6 813.2V826.2"/><path class="g" d="M1923.3 819.6V825.6"/><path class="r" d="M1923.9 819.3V827.0"/><path class="g" d="M1924.5 819.5V826.5M1925.1 815.3V825.8M1925.7 811.1V819.7M1926.3 812.2V818.9"/><path class="r" d="M1926.9 812.4V822.8M1927.5 814.8V822.9"/><path class="g" d="M1928.1 813.4V822.4M1928.8 804.0V818.0M1929.4 802.4V809.4M1930.0 790.6V809.5"/><path class="r" d="M1930.6 788.9V799.9"/><path class="g" d="M1931.2 789.2V800.2M1931.8 786.3V795.6M1932.4 786.9V792.9M1933.0 782.7V793.8M1933.7 780.2V787.6"/><path class="r" d="M1934.3 779.0V784.9M1934.9 781.0V790.9"/><path class="g" d="M1935.5 781.6V792.4"/><path class="r" d="M1936.1 782.5V787.6"/><path class="g" d="M1936.7 777.9V789.2M1937.3 774.4V782.1"/><path class="r" d="M1937.9 772.1V780.8"/><path class="g" d="M1938.5 764.8V780.5M1939.2 758.7V770.9M1939.8 751.0V766.3M1940.4 746.6V757.1M1941.0 745.8V752.9"/><path class="r" d="M1941.6 745.8V759.7M1942.2 753.3V762.9M1942.8 756.4V768.8M1943.4 764.8V770.3M1944.0 765.1V770.3"/><path class="g" d="M1944.7 759.8V771.8M1945.3 757.0V764.9M1945.9 750.6V764.2"/><path class="r" d="M1946.5 751.8V766.9M1947.1 755.5V767.5"/><path class="g" d="M1947.7 756.7V766.3M1948.3 752.4V761.5M1948.9 750.5V757.7"/><path class="r" d="M1949.5 748.8V758.0M1950.2 752.0V760.5M1950.8 754.0V762.2M1951.4 755.7V765.5"/><path class="g" d="M1952.0 757.6V766.5M1952.6 748.4V762.0"/><path class="r" d="M1953.2 746.1V760.1M1953.8 749.0V758.4"/><path class="g" d="M1954.4 744.8V756.2M1955.0 738.1V753.1M1955.7 730.3V748.8M1956.3 728.2V736.0M1956.9 723.9V734.6M1957.5 719.8V731.9M1958.1 713.7V728.4M1958.7 713.8V721.3"/><path class="r" d="M1959.3 712.7V732.2M1959.9 723.7V735.8"/><path class="g" d="M1960.5 726.6V735.7"/><path class="r" d="M1961.2 725.6V737.3"/><path class="g" d="M1961.8 725.2V733.9"/><path class="r" d="M1962.4 725.3V742.5"/><path class="g" d="M1963.0 731.0V741.0"/><path class="r" d="M1963.6 732.5V745.5"/><path class="g" d="M1964.2 734.6V744.4M1964.8 731.2V743.3M1965.4 727.2V736.9"/><path class="r" d="M1966.0 727.1V736.8"/><path class="g" d="M1966.7 727.2V737.9M1967.3 723.4V732.0"/><path class="r" d="M1967.9 723.7V732.3"/><path class="g" d="M1968.5 714.8V733.8M1969.1 718.3V724.8M1969.7 711.1V728.5"/><path class="r" d="M1970.3 713.4V727.1M1970.9 715.4V730.0"/><path class="g" d="M1971.5 720.3V730.3"/><path class="r" d="M1972.2 716.4V733.7M1972.8 727.1V736.9"/><path class="g" d="M1973.4 726.5V738.2M1974.0 723.5V734.0"/><path class="r" d="M1974.6 724.1V737.5M1975.2 724.4V738.2"/><path class="g" d="M1975.8 717.7V737.6M1976.4 706.9V725.4"/><path class="r" d="M1977.0 710.1V730.6"/><path class="g" d="M1977.7 716.0V728.5M1978.3 701.8V725.0M1978.9 676.3V706.1"/><path class="r" d="M1979.5 678.7V696.1M1980.1 678.2V695.7"/><path class="g" d="M1980.7 685.1V696.0"/><path class="r" d="M1981.3 684.7V709.5M1981.9 699.1V706.8M1982.6 700.4V710.2"/><path class="g" d="M1983.2 701.4V708.8"/><path class="r" d="M1983.8 698.8V720.1M1984.4 702.3V719.5"/><path class="g" d="M1985.0 703.6V722.1"/><path class="r" d="M1985.6 708.5V721.0M1986.2 717.1V744.4"/><path class="g" d="M1986.8 717.2V741.3"/><path class="r" d="M1987.4 715.0V729.2M1988.1 717.8V743.9"/><path class="g" d="M1988.7 727.9V737.8M1989.3 726.9V743.0"/><path class="r" d="M1989.9 721.2V742.3"/><path class="g" d="M1990.5 717.2V741.0M1991.1 709.0V724.4"/><path class="r" d="M1991.7 713.5V725.5"/><path class="g" d="M1992.3 710.6V727.2M1992.9 708.8V720.9M1993.6 710.7V720.5"/><path class="r" d="M1994.2 709.7V728.6"/><path class="g" d="M1994.8 704.5V725.6M1995.4 689.7V724.3"/><path class="r" d="M1996.0 699.7V716.8"/><path class="g" d="M1996.6 705.3V716.1M1997.2 688.5V718.4M1997.8 684.0V699.7M1998.4 676.0V694.6M1999.1 659.3V688.1M1999.7 644.6V675.1"/><path class="r" d="M2000.3 651.2V665.7"/><path class="g" d="M2000.9 653.0V667.3M2001.5 647.9V665.8"/><path class="r" d="M2002.1 649.8V667.3"/><path class="g" d="M2002.7 640.3V664.2M2003.3 620.4V652.0M2003.9 613.1V631.2"/><path class="r" d="M2004.6 617.0V635.2"/><path class="g" d="M2005.2 612.7V633.1"/><path class="r" d="M2005.8 614.9V643.0"/><path class="g" d="M2006.4 620.4V647.5M2007.0 600.2V636.3M2007.6 585.6V614.9M2008.2 582.7V606.4"/><path class="r" d="M2008.8 578.3V603.7"/><path class="g" d="M2009.4 579.8V600.1M2010.1 572.7V595.6"/><path class="r" d="M2010.7 575.0V589.9"/><path class="g" d="M2011.3 560.3V586.9"/><path class="r" d="M2011.9 561.7V571.6"/><path class="g" d="M2012.5 558.4V573.7M2013.1 546.2V569.2M2013.7 516.9V553.5M2014.3 506.3V531.8M2014.9 498.7V518.9M2015.6 499.3V521.9"/><path class="r" d="M2016.2 498.7V528.9M2016.8 513.7V529.8M2017.4 520.5V536.0M2018.0 526.8V553.2M2018.6 538.7V563.5M2019.2 553.9V591.9M2019.8 579.2V606.8M2020.4 567.6V631.9"/><path class="g" d="M2021.1 599.1V626.4"/><path class="r" d="M2021.7 604.1V628.4"/><path class="g" d="M2022.3 596.8V625.5M2022.9 582.7V618.3M2023.5 577.9V596.8"/><path class="r" d="M2024.1 576.0V607.0"/><path class="g" d="M2024.7 584.2V603.1M2025.3 565.0V592.8"/><path class="r" d="M2026.0 571.6V593.6"/><path class="g" d="M2026.6 571.5V594.4"/><path class="r" d="M2027.2 568.4V591.1"/><path class="g" d="M2027.8 555.9V594.2"/><path class="r" d="M2028.4 557.9V583.2M2029.0 564.8V594.2"/><path class="g" d="M2029.6 579.9V591.5"/><path class="r" d="M2030.2 579.0V600.2"/><path class="g" d="M2030.8 583.2V606.5M2031.5 570.7V596.2M2032.1 562.8V587.5M2032.7 544.8V574.7"/><path class="r" d="M2033.3 544.8V573.0M2033.9 561.9V600.0M2034.5 587.7V621.9"/><path class="g" d="M2035.1 597.3V617.8"/><path class="r" d="M2035.7 599.2V658.5"/><path class="g" d="M2036.3 619.5V647.0"/><path class="r" d="M2037.0 629.6V649.0M2037.6 628.5V658.0"/><path class="g" d="M2038.2 635.3V665.2M2038.8 628.0V646.1M2039.4 631.8V639.8M2040.0 614.1V640.2M2040.6 610.6V627.1M2041.2 602.9V619.7"/><path class="r" d="M2041.8 608.0V630.0"/><path class="g" d="M2042.5 610.3V628.9M2043.1 609.1V626.7"/><path class="r" d="M2043.7 602.2V627.5M2044.3 612.7V644.9"/><path class="g" d="M2044.9 609.7V641.1"/><path class="r" d="M2045.5 611.8V643.9M2046.1 620.4V648.5M2046.7 634.6V662.9"/><path class="g" d="M2047.3 620.2V649.9M2048.0 616.8V627.6M2048.6 616.3V628.8"/><path class="r" d="M2049.2 618.5V638.1"/><path class="g" d="M2049.8 625.6V639.7M2050.4 621.0V642.7M2051.0 612.3V628.3M2051.6 598.6V624.7"/><path class="r" d="M2052.2 601.8V624.2M2052.8 609.8V643.5M2053.5 628.5V654.0"/><path class="g" d="M2054.1 641.0V654.0M2054.7 627.2V652.2M2055.3 615.8V635.6"/><path class="r" d="M2055.9 611.7V639.9M2056.5 626.5V643.9"/><path class="g" d="M2057.1 625.6V648.7M2057.7 623.8V634.9M2058.3 545.3V637.2M2059.0 547.8V557.7M2059.6 538.9V559.5M2060.2 531.9V553.7M2060.8 525.0V544.2"/><path class="r" d="M2061.4 520.4V544.1"/><path class="g" d="M2062.0 516.8V543.8"/><path class="r" d="M2062.6 513.9V534.6M2063.2 520.7V540.2M2063.8 523.9V541.2M2064.5 529.0V554.1M2065.1 537.1V556.4M2065.7 535.2V561.2M2066.3 546.9V572.6"/><path class="g" d="M2066.9 550.1V574.7"/><path class="r" d="M2067.5 551.8V570.4"/><path class="g" d="M2068.1 539.7V572.1"/><path class="r" d="M2068.7 537.5V573.4"/><path class="g" d="M2069.3 537.1V574.4M2070.0 535.2V555.8"/><path class="r" d="M2070.6 540.7V564.7M2071.2 552.4V563.4M2071.8 542.0V587.1M2072.4 570.0V604.8"/><path class="g" d="M2073.0 578.8V604.9M2073.6 577.7V591.8M2074.2 576.7V592.3"/><path class="r" d="M2074.9 573.5V610.9"/><path class="g" d="M2075.5 569.8V600.2"/><path class="r" d="M2076.1 571.6V584.3M2076.7 564.0V594.9"/><path class="g" d="M2077.3 566.3V586.9"/><path class="r" d="M2077.9 562.4V591.0"/><path class="g" d="M2078.5 578.6V596.5"/><path class="r" d="M2079.1 577.9V600.0"/><path class="g" d="M2079.7 588.4V598.3"/><path class="r" d="M2080.4 590.3V606.9"/><path class="g" d="M2081.0 581.0V607.5"/><path class="r" d="M2081.6 582.3V602.8"/><path class="g" d="M2082.2 584.0V599.0"/><path class="r" d="M2082.8 580.2V604.2"/><path class="g" d="M2083.4 579.1V605.2"/><path class="r" d="M2084.0 573.5V610.4M2084.6 595.6V618.6"/><path class="g" d="M2085.2 595.3V615.6"/><path class="r" d="M2085.9 597.5V634.3"/><path class="g" d="M2086.5 625.1V633.7"/><path class="r" d="M2087.1 619.8V639.4M2087.7 627.0V663.5"/><path class="g" d="M2088.3 632.2V652.3M2088.9 625.6V647.2M2089.5 614.1V635.8M2090.1 603.9V634.7M2090.7 592.4V615.4"/><path class="r" d="M2091.4 590.5V623.0"/><path class="g" d="M2092.0 597.8V617.6M2092.6 583.2V613.0M2093.2 568.9V596.7M2093.8 565.7V585.8M2094.4 565.7V576.6M2095.0 565.1V568.7M2095.6 565.7V578.9"/><path class="r" d="M2096.2 565.7V583.6M2096.9 565.7V600.2M2097.5 591.6V616.8M2098.1 598.4V615.0M2098.7 606.3V619.3M2099.3 607.5V629.6"/><path class="g" d="M2099.9 601.8V629.1"/><path class="r" d="M2100.5 604.8V623.2M2101.1 613.5V628.2"/><path class="g" d="M2101.7 609.1V628.1M2102.4 594.6V623.6"/><path class="r" d="M2103.0 602.1V635.7M2103.6 626.5V642.9M2104.2 634.4V662.3M2104.8 652.0V683.9M2105.4 675.0V750.7"/><path class="g" d="M2106.0 693.3V717.3M2106.6 683.8V703.5M2107.2 675.9V694.4M2107.9 675.0V682.7M2108.5 658.1V685.5"/><path class="r" d="M2109.1 661.8V694.4"/><path class="g" d="M2109.7 674.1V689.5"/><path class="r" d="M2110.3 670.8V698.2"/><path class="g" d="M2110.9 678.2V691.6"/><path class="r" d="M2111.5 675.8V699.9"/><path class="g" d="M2112.1 691.5V703.1"/><path class="r" d="M2112.7 686.8V701.2"/><path class="g" d="M2113.4 681.1V697.9M2114.0 680.0V693.2M2114.6 676.5V695.8M2115.2 670.3V682.3"/><path class="r" d="M2115.8 666.6V678.7"/><path class="g" d="M2116.4 661.4V679.8"/><path class="r" d="M2117.0 660.8V670.5M2117.6 657.9V675.2M2118.3 664.3V693.0M2118.9 685.6V703.2M2119.5 694.5V700.5"/><path class="g" d="M2120.1 690.0V700.3"/><path class="r" d="M2120.7 689.2V706.1"/><path class="g" d="M2121.3 690.7V707.0"/><path class="r" d="M2121.9 686.4V712.8M2122.5 707.0V718.1M2123.1 709.6V720.0M2123.8 709.3V725.7M2124.4 707.7V745.2"/><path class="g" d="M2125.0 711.7V746.9M2125.6 721.4V744.9M2126.2 717.1V734.9M2126.8 712.2V730.2"/><path class="r" d="M2127.4 710.9V728.5"/><path class="g" d="M2128.0 718.5V727.8M2128.6 704.0V724.5M2129.3 704.5V716.8M2129.9 702.8V716.0"/><path class="r" d="M2130.5 697.4V710.7M2131.1 699.4V720.3"/><path class="g" d="M2131.7 704.0V720.1"/><path class="r" d="M2132.3 704.0V720.8M2132.9 714.1V722.7"/><path class="g" d="M2133.5 709.9V724.5M2134.1 688.9V716.4M2134.8 676.7V700.0"/><path class="r" d="M2135.4 674.4V686.3"/><path class="g" d="M2136.0 671.8V686.7"/><path class="r" d="M2136.6 675.0V687.2"/><path class="g" d="M2137.2 670.4V689.1"/><path class="r" d="M2137.8 669.9V683.3"/><path class="g" d="M2138.4 669.4V685.8"/><path class="r" d="M2139.0 666.2V701.4M2139.6 691.1V702.0M2140.3 691.4V715.2M2140.9 710.5V723.0M2141.5 717.6V723.3"/><path class="g" d="M2142.1 716.6V724.5"/><path class="r" d="M2142.7 714.3V731.2"/><path class="g" d="M2143.3 706.7V725.4"/><path class="r" d="M2143.9 707.9V729.9"/><path class="g" d="M2144.5 711.5V728.4"/><path class="r" d="M2145.1 711.8V721.3"/><path class="g" d="M2145.8 712.6V724.0M2146.4 695.7V720.1"/><path class="r" d="M2147.0 698.3V718.2"/><path class="g" d="M2147.6 683.4V713.5"/><path class="r" d="M2148.2 686.5V701.5"/><path class="g" d="M2148.8 685.0V705.3M2149.4 682.5V692.7M2150.0 673.4V692.4M2150.6 671.5V687.8M2151.3 666.2V685.6M2151.9 668.0V673.8"/><path class="r" d="M2152.5 666.2V677.4M2153.1 667.8V679.9M2153.7 669.1V680.8M2154.3 674.2V709.9M2154.9 697.6V712.9"/><path class="g" d="M2155.5 696.9V711.9M2156.1 695.7V712.3M2156.8 692.2V704.2M2157.4 681.0V712.2"/><path class="r" d="M2158.0 673.9V705.9M2158.6 688.1V699.0"/><path class="g" d="M2159.2 680.6V701.4M2159.8 680.6V697.4"/><path class="r" d="M2160.4 676.2V715.4M2161.0 708.1V719.4"/><path class="g" d="M2161.7 690.5V721.2M2162.3 670.9V699.7M2162.9 652.0V677.6M2163.5 628.6V662.3M2164.1 611.3V641.4M2164.7 610.6V632.1"/><path class="r" d="M2165.3 610.7V621.4"/><path class="g" d="M2165.9 581.5V615.4"/><path class="r" d="M2166.5 603.9V625.9"/><path class="g" d="M2167.2 616.1V632.2"/><path class="r" d="M2167.8 606.9V630.1"/><path class="g" d="M2168.4 589.2V626.8"/><path class="r" d="M2169.0 593.9V637.4"/><path class="g" d="M2169.6 622.1V631.7M2170.2 619.3V631.3M2170.8 612.4V637.1M2171.4 605.8V626.6M2172.0 588.2V617.4"/><path class="r" d="M2172.7 591.7V612.7"/><path class="g" d="M2173.3 565.4V603.0M2173.9 560.2V593.6"/><path class="r" d="M2174.5 559.7V586.5"/><path class="g" d="M2175.1 547.4V584.5M2175.7 536.6V559.3"/><path class="r" d="M2176.3 534.7V557.9"/><path class="g" d="M2176.9 520.2V562.6"/><path class="r" d="M2177.5 534.7V552.5"/><path class="g" d="M2178.2 532.0V557.4"/><path class="r" d="M2178.8 536.6V549.9"/><path class="g" d="M2179.4 512.1V553.2M2180.0 496.5V523.1"/><path class="r" d="M2180.6 497.1V540.9M2181.2 498.7V543.3M2181.8 524.3V554.4M2182.4 542.8V555.0"/><path class="g" d="M2183.0 529.8V551.6M2183.7 527.4V541.4M2184.3 518.9V549.0M2184.9 518.4V534.3M2185.5 505.9V530.1"/><path class="r" d="M2186.1 508.8V535.8"/><path class="g" d="M2186.7 496.8V546.0"/><path class="r" d="M2187.3 499.2V543.1M2187.9 534.2V559.1M2188.5 541.0V591.1"/><path class="g" d="M2189.2 567.6V626.9M2189.8 562.5V581.7"/><path class="r" d="M2190.4 567.0V587.1M2191.0 577.4V591.1"/><path class="g" d="M2191.6 560.2V595.3"/><path class="r" d="M2192.2 566.4V600.1M2192.8 584.8V602.7"/><path class="g" d="M2193.4 584.7V602.5"/><path class="r" d="M2194.0 575.6V602.2"/><path class="g" d="M2194.7 566.5V602.7"/><path class="r" d="M2195.3 573.9V601.0M2195.9 582.1V610.6"/><path class="g" d="M2196.5 590.2V606.0M2197.1 584.6V600.5"/><path class="r" d="M2197.7 580.4V604.5"/><path class="g" d="M2198.3 569.1V607.2M2198.9 545.6V586.1M2199.5 547.5V563.8"/><path class="r" d="M2200.2 542.9V582.2M2200.8 566.9V587.8M2201.4 572.2V628.3"/><path class="g" d="M2202.0 596.8V616.9M2202.6 591.0V615.1"/><path class="r" d="M2203.2 592.5V632.2"/><path class="g" d="M2203.8 599.2V649.6M2204.4 598.1V625.3M2205.0 586.4V615.6M2205.7 579.8V600.2M2206.3 569.6V598.3"/><path class="r" d="M2206.9 569.9V595.2"/><path class="g" d="M2207.5 582.0V601.7"/><path class="r" d="M2208.1 570.1V607.4"/><path class="g" d="M2208.7 578.6V611.5"/><path class="r" d="M2209.3 579.2V610.9M2209.9 599.9V623.1M2210.6 612.1V635.0M2211.2 622.9V637.9"/><path class="g" d="M2211.8 605.1V638.7"/><path class="r" d="M2212.4 601.8V627.5M2213.0 607.7V632.5"/><path class="g" d="M2213.6 600.6V638.7M2214.2 593.7V621.4M2214.8 594.1V607.2"/><path class="r" d="M2215.4 597.4V641.9M2216.1 630.7V664.5"/><path class="g" d="M2216.7 647.2V750.1M2217.3 641.2V665.0"/><path class="r" d="M2217.9 640.4V664.7M2218.5 657.2V673.8M2219.1 661.1V679.4M2219.7 671.5V689.7M2220.3 677.7V699.3M2220.9 685.8V701.0"/><path class="g" d="M2221.6 679.0V696.5M2222.2 678.0V693.1M2222.8 676.1V685.9M2223.4 667.6V684.5M2224.0 666.9V681.9"/><path class="r" d="M2224.6 664.8V692.2"/><path class="g" d="M2225.2 668.6V691.8"/><path class="r" d="M2225.8 663.3V690.2"/><path class="g" d="M2226.4 678.0V688.1M2227.1 670.4V686.4"/><path class="r" d="M2227.7 664.3V685.0M2228.3 675.9V691.6M2228.9 683.7V697.5M2229.5 686.3V709.4M2230.1 696.8V702.6M2230.7 691.4V723.9M2231.3 713.5V722.3M2231.9 714.6V738.8"/><path class="g" d="M2232.6 702.7V737.3M2233.2 690.9V715.6"/><path class="r" d="M2233.8 692.6V717.3M2234.4 705.6V751.6M2235.0 739.4V755.4M2235.6 747.2V763.9M2236.2 750.4V766.5M2236.8 759.6V770.7M2237.4 762.3V778.3M2238.1 769.7V787.2"/><path class="g" d="M2238.7 768.6V796.2"/><path class="r" d="M2239.3 766.2V786.6"/><path class="g" d="M2239.9 775.7V786.9M2240.5 766.5V782.5M2241.1 760.3V775.7M2241.7 756.5V770.1M2242.3 744.9V768.8"/><path class="r" d="M2242.9 749.2V759.7M2243.6 751.6V760.5M2244.2 753.7V770.9"/><path class="g" d="M2244.8 749.4V769.2"/><path class="r" d="M2245.4 749.0V766.4"/><path class="g" d="M2246.0 750.8V770.0M2246.6 744.9V763.5"/><path class="r" d="M2247.2 752.3V772.3M2247.8 761.7V777.1M2248.4 770.4V784.2M2249.1 767.2V787.8M2249.7 776.1V791.4"/><path class="g" d="M2250.3 780.6V790.5"/><path class="r" d="M2250.9 778.8V793.2M2251.5 782.4V794.0M2252.1 787.8V799.4M2252.7 789.3V811.9M2253.3 801.3V814.7M2254.0 805.4V821.1M2254.6 810.5V821.8M2255.2 815.1V831.5M2255.8 811.5V843.6"/><path class="g" d="M2256.4 804.4V835.3"/><path class="r" d="M2257.0 803.4V817.2M2257.6 803.2V816.2"/><path class="g" d="M2258.2 801.7V818.4"/><path class="r" d="M2258.8 805.6V817.6M2259.5 810.1V818.5"/><path class="g" d="M2260.1 796.0V817.5"/><path class="r" d="M2260.7 793.7V817.8"/><path class="g" d="M2261.3 803.2V815.4"/><path class="r" d="M2261.9 804.4V824.1"/><path class="g" d="M2262.5 814.9V821.3M2263.1 805.8V819.5"/><path class="r" d="M2263.7 808.4V823.1"/><path class="g" d="M2264.3 800.7V820.6M2265.0 788.4V808.4"/><path class="r" d="M2265.6 787.8V797.6"/><path class="g" d="M2266.2 779.0V799.4M2266.8 767.8V788.6"/><path class="r" d="M2267.4 771.0V792.2M2268.0 783.8V790.9M2268.6 785.8V795.1"/><path class="g" d="M2269.2 775.0V797.3"/><path class="r" d="M2269.8 771.7V791.2"/><path class="g" d="M2270.5 778.4V792.1"/><path class="r" d="M2271.1 774.1V796.6"/><path class="g" d="M2271.7 784.6V795.4"/><path class="r" d="M2272.3 785.5V801.2"/><path class="g" d="M2272.9 789.5V805.0M2273.5 782.3V801.1M2274.1 731.4V793.7M2274.7 709.5V741.8M2275.3 688.1V725.5"/><path class="r" d="M2276.0 687.8V698.9"/><path class="g" d="M2276.6 666.0V704.0"/><path class="r" d="M2277.2 671.6V686.8M2277.8 665.4V692.9"/><path class="g" d="M2278.4 675.8V692.0"/><path class="r" d="M2279.0 671.2V693.3M2279.6 679.7V709.0M2280.2 696.8V709.2"/><path class="g" d="M2280.8 689.0V710.2M2281.5 683.3V702.1M2282.1 684.6V698.5M2282.7 670.1V696.7"/><path class="r" d="M2283.3 668.0V706.6"/><path class="g" d="M2283.9 678.2V702.9M2284.5 679.7V688.9"/><path class="r" d="M2285.1 676.6V695.0M2285.7 681.5V706.1"/><path class="g" d="M2286.3 673.3V704.5"/><path class="r" d="M2287.0 671.1V697.9M2287.6 675.8V694.5M2288.2 681.4V704.7M2288.8 695.0V722.2"/><path class="g" d="M2289.4 699.5V719.1"/><path class="r" d="M2290.0 697.6V715.8"/><path class="g" d="M2290.6 701.6V716.3"/><path class="r" d="M2291.2 707.4V716.7"/><path class="g" d="M2291.8 690.5V715.7"/><path class="r" d="M2292.5 687.9V703.1"/><path class="g" d="M2293.1 684.3V703.0M2293.7 669.0V696.6"/><path class="r" d="M2294.3 669.0V684.0"/><path class="g" d="M2294.9 652.3V681.2"/><path class="r" d="M2295.5 660.8V689.5M2296.1 674.5V696.4"/><path class="g" d="M2296.7 684.7V700.5"/><path class="r" d="M2297.3 679.8V703.3M2298.0 687.8V705.4"/><path class="g" d="M2298.6 679.3V702.8"/><path class="r" d="M2299.2 675.9V698.9M2299.8 684.2V711.0M2300.4 703.3V723.1M2301.0 709.6V729.3M2301.6 724.6V751.4"/><path class="g" d="M2302.2 712.7V740.2M2302.9 702.5V725.9"/><path class="r" d="M2303.5 701.2V720.8"/><path class="g" d="M2304.1 704.5V724.0"/><path class="r" d="M2304.7 704.4V726.6M2305.3 713.4V723.8"/><path class="g" d="M2305.9 704.2V726.5"/><path class="r" d="M2306.5 708.4V723.9"/><path class="g" d="M2307.1 703.5V721.4M2307.7 696.9V720.1M2308.4 696.8V715.0"/><path class="r" d="M2309.0 693.7V708.8M2309.6 697.2V708.2"/><path class="g" d="M2310.2 681.0V710.8"/><path class="r" d="M2310.8 673.8V705.8"/><path class="g" d="M2311.4 682.0V702.4M2312.0 660.5V691.9M2312.6 627.2V668.5"/><path class="r" d="M2313.2 637.3V659.4"/><path class="g" d="M2313.9 614.7V652.9M2314.5 603.4V629.4"/><path class="r" d="M2315.1 596.3V624.7"/><path class="g" d="M2315.7 605.8V624.9M2316.3 585.9V622.5M2316.9 576.0V596.3M2317.5 554.4V593.9M2318.1 550.7V571.6M2318.7 520.8V564.5"/><path class="r" d="M2319.4 532.9V557.5"/><path class="g" d="M2320.0 540.2V560.9"/><path class="r" d="M2320.6 544.3V564.2"/><path class="g" d="M2321.2 518.3V565.1M2321.8 501.1V533.2"/><path class="r" d="M2322.4 511.1V535.9M2323.0 520.5V542.4M2323.6 519.4V554.8M2324.2 533.6V556.1"/><path class="g" d="M2324.9 539.9V551.7"/><path class="r" d="M2325.5 539.0V560.3M2326.1 546.5V583.7M2326.7 570.6V593.5"/><path class="g" d="M2327.3 545.9V595.1M2327.9 537.9V561.2"/><path class="r" d="M2328.5 528.8V549.3"/><path class="g" d="M2329.1 526.3V547.8"/><path class="r" d="M2329.7 531.0V547.9"/><path class="g" d="M2330.4 501.5V550.2M2331.0 504.2V518.3M2331.6 464.3V512.0M2332.2 435.6V477.9M2332.8 437.3V453.0M2333.4 407.7V452.0"/><path class="r" d="M2334.0 408.2V466.7M2334.6 448.9V466.9"/><path class="g" d="M2335.2 427.2V464.5"/><path class="r" d="M2335.9 422.1V460.5M2336.5 435.9V490.6M2337.1 475.1V507.3"/><path class="g" d="M2337.7 464.4V506.2M2338.3 431.2V483.1M2338.9 396.6V446.7M2339.5 395.8V426.1"/><path class="r" d="M2340.1 390.0V424.6M2340.7 395.6V464.1M2341.4 430.1V468.3M2342.0 453.4V473.8M2342.6 456.5V476.2"/><path class="g" d="M2343.2 459.3V478.4M2343.8 454.3V487.2M2344.4 450.9V470.1"/><path class="r" d="M2345.0 449.1V479.2"/><path class="g" d="M2345.6 461.8V483.4"/><path class="r" d="M2346.3 461.1V493.6"/><path class="g" d="M2346.9 456.6V492.5"/><path class="r" d="M2347.5 464.1V477.2"/><path class="g" d="M2348.1 459.8V480.4M2348.7 452.3V471.9M2349.3 417.3V469.4"/><path class="r" d="M2349.9 419.6V431.9M2350.5 413.9V442.9"/><path class="g" d="M2351.1 413.4V438.3M2351.8 414.9V439.3"/><path class="r" d="M2352.4 415.4V433.5"/><path class="g" d="M2353.0 415.6V434.1"/><path class="r" d="M2353.6 417.1V461.5M2354.2 432.3V476.5"/><path class="g" d="M2354.8 441.1V475.2M2355.4 429.2V456.2"/><path class="r" d="M2356.0 425.5V451.3M2356.6 441.7V473.2M2357.3 461.1V488.7M2357.9 468.5V490.9M2358.5 473.5V512.5M2359.1 494.4V514.9M2359.7 502.5V537.6"/><path class="g" d="M2360.3 509.3V542.3M2360.9 513.0V532.8"/><path class="r" d="M2361.5 514.4V542.1"/><path class="g" d="M2362.1 496.8V541.4M2362.8 481.7V511.5M2363.4 482.9V498.1M2364.0 429.3V497.7"/><path class="r" d="M2364.6 436.2V460.7M2365.2 440.5V452.2M2365.8 429.3V478.7"/><path class="g" d="M2366.4 421.7V485.5"/><path class="r" d="M2367.0 417.8V456.6M2367.6 440.5V479.8"/><path class="g" d="M2368.3 458.2V476.5"/><path class="r" d="M2368.9 460.8V584.5"/><path class="g" d="M2369.5 522.0V542.4M2370.1 503.7V544.2M2370.7 475.5V523.5"/><path class="r" d="M2371.3 475.8V504.2M2371.9 489.2V533.7M2372.5 512.7V539.7M2373.1 525.0V540.4"/><path class="g" d="M2373.8 511.4V537.0"/><path class="r" d="M2374.4 507.7V529.4M2375.0 509.5V540.6M2375.6 517.6V532.7"/><path class="g" d="M2376.2 494.8V539.8M2376.8 488.7V522.2M2377.4 483.6V501.1"/><path class="r" d="M2378.0 486.6V503.7M2378.6 491.8V513.9"/><path class="g" d="M2379.3 485.2V519.8"/><path class="r" d="M2379.9 488.6V517.8M2380.5 499.6V528.4M2381.1 505.9V543.9"/><path class="g" d="M2381.7 518.3V551.9"/><path class="r" d="M2382.3 521.7V551.5M2382.9 533.2V579.1"/><path class="g" d="M2383.5 558.8V577.6"/><path class="r" d="M2384.1 558.7V632.5"/><path class="g" d="M2384.8 566.2V608.7M2385.4 559.1V577.6"/><path class="r" d="M2386.0 558.5V597.5M2386.6 581.1V601.5"/><path class="g" d="M2387.2 562.0V599.0M2387.8 563.7V596.9"/><path class="r" d="M2388.4 560.1V604.8"/><path class="g" d="M2389.0 590.2V615.4"/><path class="r" d="M2389.6 596.2V628.6M2390.3 616.7V633.2M2390.9 621.0V640.6M2391.5 623.2V641.5M2392.1 625.1V638.5M2392.7 630.8V665.8M2393.3 652.6V672.9M2393.9 665.7V684.0"/><path class="g" d="M2394.5 658.6V687.5M2395.2 656.0V677.9M2395.8 646.1V661.5M2396.4 633.3V660.5"/><path class="r" d="M2397.0 631.9V655.0M2397.6 639.6V660.2"/><path class="g" d="M2398.2 629.5V661.2"/><path class="r" d="M2398.8 621.5V640.9M2399.4 620.9V665.3M2400.0 650.5V677.0M2400.7 650.8V673.9"/><path class="g" d="M2401.3 643.0V673.3M2401.9 606.6V653.2"/><path class="r" d="M2402.5 607.0V628.4M2403.1 616.1V631.5"/><path class="g" d="M2403.7 600.8V629.1M2404.3 584.6V612.1M2404.9 581.9V601.5"/><path class="r" d="M2405.5 581.5V626.9M2406.2 593.8V626.5"/><path class="g" d="M2406.8 601.3V623.5"/><path class="r" d="M2407.4 598.7V632.7"/><path class="g" d="M2408.0 620.4V630.8"/><path class="r" d="M2408.6 622.6V634.5"/><path class="g" d="M2409.2 620.3V638.5M2409.8 620.5V633.5"/><path class="r" d="M2410.4 618.9V639.6M2411.0 628.7V675.4"/><path class="g" d="M2411.7 655.4V662.9M2412.3 627.1V666.6M2412.9 613.3V649.1"/><path class="r" d="M2413.5 621.8V641.6M2414.1 634.4V656.2"/><path class="g" d="M2414.7 625.2V657.2"/><path class="r" d="M2415.3 623.4V647.6M2415.9 637.3V661.0M2416.5 643.0V668.3"/><path class="g" d="M2417.2 644.0V666.9M2417.8 641.2V660.5M2418.4 629.6V652.9"/><path class="r" d="M2419.0 626.2V657.1"/></g>
  <g fill="#191919" stroke="none">
<path fill-rule="evenodd" d="M2101.2 346h4.300l1.800-3.300h7.400l1.800 3.300h4.300a2 2 0 0 1 2 2v11.400a2 2 0 0 1-2 2h-19.600a2 2 0 0 1-2-2v-11.400a2 2 0 0 1 2-2zM2111 347.800a5.600 5.600 0 1 0 .01 0zM2111 350.400a3 3 0 1 1-.01 0z"/>
<path fill-rule="evenodd" d="M2232.600 341.300h20.800v21.200h-20.800zM2237.100 350.100v3.500h3.900v4.300h3.900v-4.300h3.900v-3.500h-3.900v-4.200h-3.900v4.200z"/>
<path fill-rule="evenodd" d="M2268.400 341.300h21.200v21.300h-21.200zM2272.600 350.800v2.900h12.700v-2.900z"/>
<path fill-rule="evenodd" d="M2351 343l10.600 8.700h-2.900v9h-5.600v-5.500h-4.200v5.500h-5.600v-9h-2.600zM2356 344.200h2.700v4.200l-2.700-2.200z"/>
</g>
<g fill="none" stroke="#171717" stroke-width="2.200">
<path d="M2195 341.500v21M2184.500 351.900h21M2191.800 344.700l3.200-3.200l3.200 3.200M2191.800 359.300l3.200 3.200l3.200-3.200M2187.700 348.700l-3.200 3.200l3.200 3.200M2202.300 348.700l3.200 3.200l-3.200 3.200"/>
<path d="M2303.700 346.200v-4.900h5.400M2320.600 341.300h5.400v4.900M2326 357.700v4.900h-5.400M2309.100 362.600h-5.400v-4.900M2308.200 345.400l13.300 13.200M2321.500 345.400l-13.300 13.200M2308 349.600v-4.400h4.400M2317.300 345.200h4.400v4.400M2321.700 354.400v4.400h-4.400M2312.400 358.800h-4.400v-4.400"/>
<path d="M2387.700 350.300v-4.700h5.200M2398.300 345.600h5.200v4.700M2403.500 355.800v4.700h-5.200M2392.900 360.500h-5.200v-4.700" stroke-width="2.400"/>
</g>
<g>
<circle cx="2156.900" cy="349.900" r="7.600" fill="none" stroke="#353535" stroke-width="4.200"/>
<rect x="2152" y="345.200" width="9.400" height="9.400" fill="#0b0b0b"/>
<rect x="2153.400" y="346.600" width="6.600" height="6.600" fill="#303030"/>
<path d="M2162.200 356.200l7.400 6.600" stroke="#353535" stroke-width="4.200" fill="none"/>
</g>
  <text transform="translate(581.07 341.80) scale(1.1421 1)" font-family="Liberation Sans" font-weight="700" font-size="20.09" fill="#2f3032" stroke="#2f3032" stroke-width="0.3">undefined</text>
<text transform="translate(576.50 391.36) scale(0.9540 1)" font-family="Liberation Mono" font-weight="400" font-size="18.82" fill="#96969a" stroke="#96969a" stroke-width="0.35">5000</text>
<text transform="translate(577.09 518.04) scale(0.9488 1)" font-family="Liberation Mono" font-weight="400" font-size="18.82" fill="#96969a" stroke="#96969a" stroke-width="0.35">4000</text>
<text transform="translate(576.86 644.55) scale(0.9540 1)" font-family="Liberation Mono" font-weight="400" font-size="18.82" fill="#96969a" stroke="#96969a" stroke-width="0.35">3000</text>
<text transform="translate(576.72 770.70) scale(0.9572 1)" font-family="Liberation Mono" font-weight="400" font-size="18.82" fill="#96969a" stroke="#96969a" stroke-width="0.35">2000</text>
<text transform="translate(576.67 897.38) scale(0.9582 1)" font-family="Liberation Mono" font-weight="400" font-size="18.82" fill="#96969a" stroke="#96969a" stroke-width="0.35">1000</text>
<text transform="translate(608.42 1023.36) scale(1.0182 1)" font-family="Liberation Mono" font-weight="400" font-size="18.82" fill="#96969a" stroke="#96969a" stroke-width="0.35">0</text>
<text transform="translate(610.73 1072.59) scale(0.9648 1)" font-family="Liberation Mono" font-weight="400" font-size="19.26" fill="#96969a" stroke="#96969a" stroke-width="0.35">2018</text>
<text transform="translate(833.57 1072.59) scale(0.9670 1)" font-family="Liberation Mono" font-weight="400" font-size="19.26" fill="#96969a" stroke="#96969a" stroke-width="0.35">2019</text>
<text transform="translate(1056.76 1072.59) scale(0.9627 1)" font-family="Liberation Mono" font-weight="400" font-size="19.26" fill="#96969a" stroke="#96969a" stroke-width="0.35">2020</text>
<text transform="translate(1280.64 1072.59) scale(0.9574 1)" font-family="Liberation Mono" font-weight="400" font-size="19.26" fill="#96969a" stroke="#96969a" stroke-width="0.35">2021</text>
<text transform="translate(1503.47 1072.59) scale(0.9670 1)" font-family="Liberation Mono" font-weight="400" font-size="19.26" fill="#96969a" stroke="#96969a" stroke-width="0.35">2022</text>
<text transform="translate(1726.66 1072.59) scale(0.9638 1)" font-family="Liberation Mono" font-weight="400" font-size="19.26" fill="#96969a" stroke="#96969a" stroke-width="0.35">2023</text>
<text transform="translate(1949.85 1072.59) scale(0.9585 1)" font-family="Liberation Mono" font-weight="400" font-size="19.26" fill="#96969a" stroke="#96969a" stroke-width="0.35">2024</text>
<text transform="translate(2173.72 1072.59) scale(0.9638 1)" font-family="Liberation Mono" font-weight="400" font-size="19.26" fill="#96969a" stroke="#96969a" stroke-width="0.35">2025</text>
</svg>
<svg class="abs" style="left:0;top:0;will-change:transform" width="2550" height="1189" viewBox="0 0 2550 1189">
<text transform="translate(35.68 163.58) scale(0.8626 1)" font-family="Liberation Sans" font-weight="700" font-size="26.15" fill="#ffffff" stroke="#ffffff" stroke-width="0.3">SYSTEM CONFIGURATION</text>
<text transform="translate(36.58 245.95) scale(0.9325 1)" font-family="Liberation Mono" font-weight="400" font-size="20.59" fill="#86868a" stroke="#86868a" stroke-width="0.35">ASSET SELECTION</text>
<text transform="translate(55.28 293.16) scale(1.0219 1)" font-family="Liberation Mono" font-weight="400" font-size="23.97" fill="#fafafa" stroke="#fafafa" stroke-width="0.35">ETH-USD</text>
<text transform="translate(35.40 384.95) scale(0.9379 1)" font-family="Liberation Mono" font-weight="400" font-size="20.59" fill="#86868a" stroke="#86868a" stroke-width="0.35">TIMEFRAME SELECTION</text>
<text transform="translate(54.96 430.67) scale(1.0119 1)" font-family="Liberation Sans" font-weight="400" font-size="22.19" fill="#36373e" stroke="#36373e" stroke-width="0.15">2018/01/01</text>
<text transform="translate(54.96 514.18) scale(1.0119 1)" font-family="Liberation Sans" font-weight="400" font-size="22.19" fill="#36373e" stroke="#36373e" stroke-width="0.15">2026/01/01</text>
<text transform="translate(35.76 701.56) scale(0.8707 1)" font-family="Liberation Sans" font-weight="700" font-size="26.15" fill="#ffffff" stroke="#ffffff" stroke-width="0.3">GENETIC ENGINE</text>
<text transform="translate(36.26 756.80) scale(0.9053 1)" font-family="Liberation Sans" font-weight="400" font-size="19.79" fill="#323436" stroke="#323436" stroke-width="0.45">POPULATION SIZE</text>
<text transform="translate(54.60 811.72) scale(1.0254 1)" font-family="Liberation Sans" font-weight="400" font-size="21.48" fill="#36373e" stroke="#36373e" stroke-width="0.15">30</text>
<text transform="translate(35.51 882.63) scale(0.8899 1)" font-family="Liberation Sans" font-weight="400" font-size="19.79" fill="#323436" stroke="#323436" stroke-width="0.45">GENERATIONS</text>
<text transform="translate(55.34 937.71) scale(0.9661 1)" font-family="Liberation Sans" font-weight="400" font-size="21.79" fill="#36373e" stroke="#36373e" stroke-width="0.15">5</text>
<text transform="translate(36.16 1124.91) scale(0.8467 1)" font-family="Liberation Sans" font-weight="700" font-size="26.15" fill="#ffffff" stroke="#ffffff" stroke-width="0.3">WFA PARAMETERS</text>
<text transform="translate(36.66 1181.84) scale(0.8825 1)" font-family="Liberation Sans" font-weight="400" font-size="20.36" fill="#323436" stroke="#323436" stroke-width="0.45">TRAIN WINDOW (MONTHS)</text>
<path d="M346 803.2h12.2v3.4h-12.2zM394 803.2h12.2v3.4h-12.2zM398.4 798.8h3.4v12.2h-3.4z" fill="#31333f"/>
<path d="M346 929.2h12.2v3.4h-12.2zM394 929.2h12.2v3.4h-12.2zM398.4 924.8h3.4v12.2h-3.4z" fill="#31333f"/>
<text transform="translate(593.92 148.25) scale(0.9058 1)" font-family="Liberation Sans" font-weight="400" font-size="22.61" fill="#fafafa" stroke="#fafafa" stroke-width="0.45">INITIALIZE DATA STREAM</text>
<text transform="translate(600.11 244.42) scale(0.8753 1)" font-family="Liberation Sans" font-weight="400" font-size="22.61" fill="#2f865a" stroke="#2f865a" stroke-width="0.35">DATA SYNC COMPLETE</text>
<text transform="translate(1048.23 138.07) scale(0.9683 1)" font-family="Liberation Mono" font-weight="400" font-size="20.15" fill="#8b8b8f" stroke="#8b8b8f" stroke-width="0.35">RECORDS</text>
<text transform="translate(1198.15 138.07) scale(0.9435 1)" font-family="Liberation Mono" font-weight="400" font-size="20.15" fill="#8b8b8f" stroke="#8b8b8f" stroke-width="0.35">START</text>
<text transform="translate(1501.34 138.26) scale(0.9570 1)" font-family="Liberation Mono" font-weight="400" font-size="20.84" fill="#8b8b8f" stroke="#8b8b8f" stroke-width="0.35">END</text>
<text transform="translate(1047.50 199.91) scale(0.9839 1)" font-family="Liberation Mono" font-weight="700" font-size="44.71" fill="#ffffff" stroke="#ffffff" stroke-width="0.6">2922</text>
<text transform="translate(1196.75 199.91) scale(0.9535 1)" font-family="Liberation Mono" font-weight="700" font-size="44.71" fill="#ffffff" stroke="#ffffff" stroke-width="0.6">2018-01-01</text>
<text transform="translate(1500.02 199.95) scale(0.9569 1)" font-family="Liberation Mono" font-weight="700" font-size="44.71" fill="#ffffff" stroke="#ffffff" stroke-width="0.6">2025-12-31</text>
<text transform="translate(636.82 1137.76) scale(0.8714 1)" font-family="Liberation Sans" font-weight="400" font-size="22.84" fill="#e6e6e6" stroke="#e6e6e6" stroke-width="0.45">VIEW RAW DATA MATRIX</text>
<path d="M606.2 1125.3L612 1131.1L606.2 1136.9" fill="none" stroke="#e0e0e0" stroke-width="2.7"/>
</svg>
</body></html>
